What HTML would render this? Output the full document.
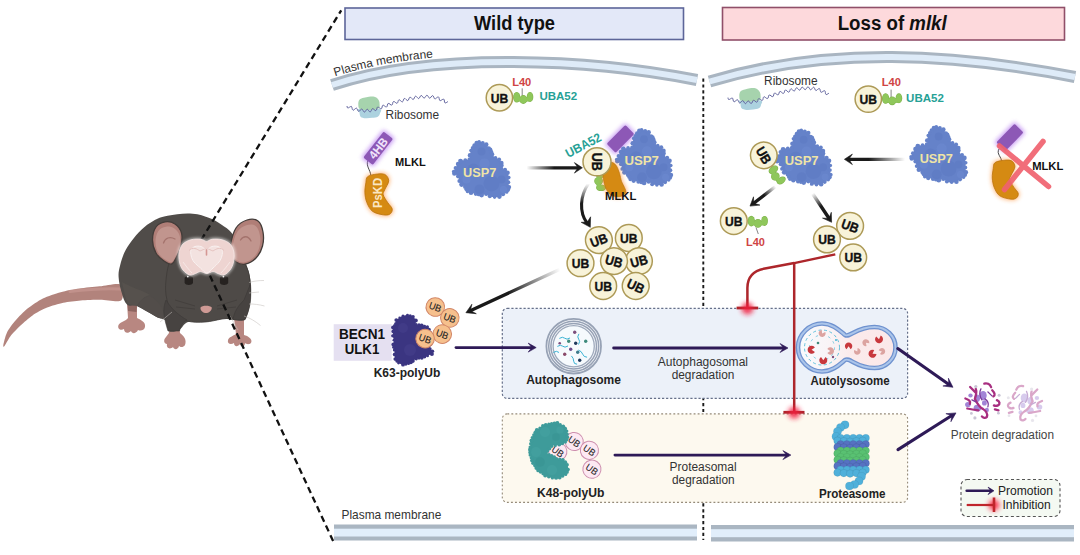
<!DOCTYPE html>
<html><head><meta charset="utf-8"><style>
html,body{margin:0;padding:0;background:#fff;width:1080px;height:555px;overflow:hidden}
svg{display:block}
text{font-family:"Liberation Sans",sans-serif}
.b{font-weight:bold}
</style></head><body>
<svg width="1080" height="555" viewBox="0 0 1080 555">
<defs>
<filter id="glowR" x="-150%" y="-150%" width="400%" height="400%"><feGaussianBlur stdDeviation="2.6"/></filter>
<filter id="glowO" x="-50%" y="-50%" width="200%" height="200%"><feGaussianBlur stdDeviation="2"/></filter>
<filter id="glowB" x="-50%" y="-50%" width="200%" height="200%"><feGaussianBlur stdDeviation="1.6"/></filter>
<filter id="soft" x="-20%" y="-20%" width="140%" height="140%"><feGaussianBlur stdDeviation="0.5"/></filter>
<linearGradient id="g1" gradientUnits="userSpaceOnUse" x1="526.5" y1="167.8" x2="582" y2="167.8"><stop offset="0.0" stop-color="#1a1a1a" stop-opacity="0"/><stop offset="0.5" stop-color="#1a1a1a"/><stop offset="1" stop-color="#1a1a1a"/></linearGradient><linearGradient id="g2" gradientUnits="userSpaceOnUse" x1="588.5" y1="183.5" x2="587" y2="227"><stop offset="0.0" stop-color="#1a1a1a" stop-opacity="0"/><stop offset="0.45" stop-color="#1a1a1a"/><stop offset="1" stop-color="#1a1a1a"/></linearGradient><linearGradient id="g3" gradientUnits="userSpaceOnUse" x1="560" y1="269.3" x2="466" y2="312.7"><stop offset="0.0" stop-color="#1a1a1a" stop-opacity="0"/><stop offset="0.55" stop-color="#1a1a1a"/><stop offset="1" stop-color="#1a1a1a"/></linearGradient><linearGradient id="g4" gradientUnits="userSpaceOnUse" x1="905" y1="159.3" x2="844.4" y2="159.3"><stop offset="0.0" stop-color="#1a1a1a" stop-opacity="0"/><stop offset="0.6" stop-color="#1a1a1a"/><stop offset="1" stop-color="#1a1a1a"/></linearGradient><linearGradient id="g5" gradientUnits="userSpaceOnUse" x1="775.5" y1="186.5" x2="750" y2="206.1"><stop offset="0.0" stop-color="#1a1a1a" stop-opacity="0"/><stop offset="0.45" stop-color="#1a1a1a"/><stop offset="1" stop-color="#1a1a1a"/></linearGradient><linearGradient id="g6" gradientUnits="userSpaceOnUse" x1="812.5" y1="193.5" x2="831.6" y2="222.3"><stop offset="0.0" stop-color="#1a1a1a" stop-opacity="0"/><stop offset="0.45" stop-color="#1a1a1a"/><stop offset="1" stop-color="#1a1a1a"/></linearGradient></defs>
<rect x="345" y="8" width="338.5" height="31.5" fill="#e3e8f8" stroke="#5d6599" stroke-width="1.6"/>
<text x="514.5" y="29.7" font-size="20" font-weight="bold" text-anchor="middle" fill="#111" textLength="81" lengthAdjust="spacingAndGlyphs">Wild type</text>
<rect x="722.5" y="7.5" width="342" height="32.5" fill="#fdd9dc" stroke="#904f69" stroke-width="1.6"/>
<text x="892.2" y="29.7" font-size="20" font-weight="bold" text-anchor="middle" fill="#111" textLength="109" lengthAdjust="spacingAndGlyphs">Loss of <tspan font-style="italic">mlkl</tspan></text>
<path d="M332,85 C434.3,51.1 591.5,59.1 697,80" fill="none" stroke="#a9b5c1" stroke-width="12"/>
<path d="M332,85 C434.3,51.1 591.5,59.1 697,80" fill="none" stroke="#deebf8" stroke-width="6"/>
<path d="M709.5,81.5 C829,45.8 953.9,53.5 1075,77" fill="none" stroke="#a9b5c1" stroke-width="12"/>
<path d="M709.5,81.5 C829,45.8 953.9,53.5 1075,77" fill="none" stroke="#deebf8" stroke-width="6"/>
<path id="pmt" d="M333,77 C434,43.5 591,51.5 697,72" fill="none"/>
<text font-size="11.9" fill="#333"><textPath href="#pmt" startOffset="2.3">Plasma membrane</textPath></text>
<rect x="334" y="524.5" width="363" height="16" fill="#aab6c2"/><rect x="334" y="528.7" width="363" height="7.8" fill="#e1eefb"/>
<rect x="711" y="525" width="363" height="16.5" fill="#aab6c2"/><rect x="711" y="529.2" width="363" height="8" fill="#e1eefb"/>
<text x="341.5" y="519" font-size="11.9" fill="#333">Plasma membrane</text>
<line x1="703.3" y1="78.5" x2="703.3" y2="540" stroke="#1a1a1a" stroke-width="1.9" stroke-dasharray="3.2,2.7"/>
<rect x="502.3" y="308.4" width="405.3" height="90" rx="5" fill="#ecf1f9" stroke="#66708a" stroke-width="1.2" stroke-dasharray="2.2,1.85"/>
<rect x="502.3" y="413.9" width="405.3" height="88.5" rx="5" fill="#fdf9ef" stroke="#958a78" stroke-width="1.1" stroke-dasharray="1.9,2.15"/>
<g transform="translate(0,0)"><path d="M358.9,108.9 C362.2,108.4 375.9,108.2 379.4,108.9 C382.9,109.6 380.3,112 380,113.3 C379.7,114.6 379.1,116 377.8,116.7 C376.5,117.5 374.2,117.5 372.2,117.8 C370.2,118.1 367.5,118.5 365.6,118.3 C363.7,118.1 361.6,117.7 360.6,116.7 C359.6,115.7 359.7,113.5 359.4,112.2 C359.1,110.9 355.6,109.5 358.9,108.9Z" fill="#acd2df"/><path d="M358.3,104.5 C358.2,103 358.5,100.9 359.4,99.8 C360.3,98.7 362.3,98.3 363.9,97.8 C365.5,97.3 367.3,96.9 368.9,96.7 C370.5,96.5 372,96.3 373.3,96.5 C374.6,96.7 375.8,97.1 376.7,97.8 C377.6,98.5 378.4,99.5 378.9,100.6 C379.4,101.7 379.7,103.1 379.6,104.4 C379.5,105.7 380.3,107.6 378.5,108.5 C376.7,109.4 372.1,109.9 369,110 C365.9,110.1 361.8,109.9 360,109 C358.2,108.1 358.4,106 358.3,104.5Z" fill="#a6d3ad"/><path d="M347,106 L347.2,107.2 L347.6,107.9 L348.5,107.8 L349.5,107.2 L350.6,106.6 L351.4,106.4 L351.8,107.1 L352.1,108.3 L352.4,109.5 L353,110.2 L353.8,110 L354.7,109.2 L355.7,108.4 L356.4,108.1 L357,108.6 L357.5,109.8 L358,110.9 L358.6,111.4 L359.4,111.1 L360.2,110.2 L361.1,109.3 L361.8,109 L362.4,109.4 L363,110.5 L363.7,111.6 L364.3,112.1 L365.1,111.7 L365.8,110.7 L366.5,109.7 L367.2,109.2 L367.9,109.6 L368.6,110.6 L369.4,111.6 L370.2,111.9 L370.9,111.4 L371.4,110.3 L371.9,109.2 L372.4,108.6 L373.2,108.8 L374.1,109.6 L375.1,110.4 L375.9,110.6 L376.5,110 L376.8,108.9 L377.1,107.7 L377.7,107 L378.4,107.2 L379.4,107.9 L380.4,108.6 L381.3,108.8 L381.8,108.2 L382.1,107 L382.4,105.8 L382.9,105.2 L383.7,105.3 L384.7,106.1 L385.7,106.8 L386.5,107 L387.1,106.4 L387.4,105.2 L387.7,104 L388.2,103.4 L389,103.5 L390,104.2 L391,105 L391.8,105.1 L392.4,104.5 L392.7,103.3 L393,102.1 L393.5,101.5 L394.3,101.6 L395.3,102.4 L396.3,103.1 L397.1,103.3 L397.6,102.8 L398,101.6 L398.4,100.4 L398.9,99.8 L399.7,100 L400.7,100.8 L401.6,101.6 L402.4,101.9 L403,101.3 L403.4,100.2 L403.8,99 L404.4,98.4 L405.2,98.6 L406.1,99.5 L407,100.3 L407.8,100.6 L408.4,100.1 L408.9,98.9 L409.3,97.8 L409.9,97.2 L410.7,97.4 L411.6,98.3 L412.5,99.2 L413.2,99.5 L413.8,99 L414.3,97.9 L414.9,96.7 L415.5,96.2 L416.2,96.4 L417.1,97.3 L417.9,98.2 L418.7,98.6 L419.3,98.1 L419.9,97.1 L420.5,96 L421.1,95.4 L421.9,95.8 L422.7,96.7 L423.4,97.7 L424.1,98.2 L424.8,97.7 L425.5,96.7 L426.2,95.7 L426.9,95.2 L427.6,95.6 L428.3,96.6 L428.9,97.7 L429.6,98.2 L430.3,97.9 L431,97 L431.9,96 L432.6,95.6 L433.3,96.1 L433.8,97.2 L434.3,98.4 L434.9,99 L435.6,98.7 L436.5,97.9 L437.5,97.2 L438.4,96.9 L438.9,97.5 L439.2,98.7 L439.5,99.9 L439.9,100.6 L440.7,100.6 L441.8,99.9 L442.8,99.3 L443.7,99.1 L444.2,99.8 L444.4,101 L444.5,102.2 L445,102.9 L445.8,102.9 L446.8,102.3 L447.9,101.6" fill="none" stroke="#64669f" stroke-width="1"/></g>
<text x="385.6" y="119.1" font-size="11.9" fill="#333">Ribosome</text>
<g transform="translate(381,-8.4)"><path d="M358.9,108.9 C362.2,108.4 375.9,108.2 379.4,108.9 C382.9,109.6 380.3,112 380,113.3 C379.7,114.6 379.1,116 377.8,116.7 C376.5,117.5 374.2,117.5 372.2,117.8 C370.2,118.1 367.5,118.5 365.6,118.3 C363.7,118.1 361.6,117.7 360.6,116.7 C359.6,115.7 359.7,113.5 359.4,112.2 C359.1,110.9 355.6,109.5 358.9,108.9Z" fill="#acd2df"/><path d="M358.3,104.5 C358.2,103 358.5,100.9 359.4,99.8 C360.3,98.7 362.3,98.3 363.9,97.8 C365.5,97.3 367.3,96.9 368.9,96.7 C370.5,96.5 372,96.3 373.3,96.5 C374.6,96.7 375.8,97.1 376.7,97.8 C377.6,98.5 378.4,99.5 378.9,100.6 C379.4,101.7 379.7,103.1 379.6,104.4 C379.5,105.7 380.3,107.6 378.5,108.5 C376.7,109.4 372.1,109.9 369,110 C365.9,110.1 361.8,109.9 360,109 C358.2,108.1 358.4,106 358.3,104.5Z" fill="#a6d3ad"/><path d="M347,106 L347.2,107.2 L347.6,107.9 L348.5,107.8 L349.5,107.2 L350.6,106.6 L351.4,106.4 L351.8,107.1 L352.1,108.3 L352.4,109.5 L353,110.2 L353.8,110 L354.7,109.2 L355.7,108.4 L356.4,108.1 L357,108.6 L357.5,109.8 L358,110.9 L358.6,111.4 L359.4,111.1 L360.2,110.2 L361.1,109.3 L361.8,109 L362.4,109.4 L363,110.5 L363.7,111.6 L364.3,112.1 L365.1,111.7 L365.8,110.7 L366.5,109.7 L367.2,109.2 L367.9,109.6 L368.6,110.6 L369.4,111.6 L370.2,111.9 L370.9,111.4 L371.4,110.3 L371.9,109.2 L372.4,108.6 L373.2,108.8 L374.1,109.6 L375.1,110.4 L375.9,110.6 L376.5,110 L376.8,108.9 L377.1,107.7 L377.7,107 L378.4,107.2 L379.4,107.9 L380.4,108.6 L381.3,108.8 L381.8,108.2 L382.1,107 L382.4,105.8 L382.9,105.2 L383.7,105.3 L384.7,106.1 L385.7,106.8 L386.5,107 L387.1,106.4 L387.4,105.2 L387.7,104 L388.2,103.4 L389,103.5 L390,104.2 L391,105 L391.8,105.1 L392.4,104.5 L392.7,103.3 L393,102.1 L393.5,101.5 L394.3,101.6 L395.3,102.4 L396.3,103.1 L397.1,103.3 L397.6,102.8 L398,101.6 L398.4,100.4 L398.9,99.8 L399.7,100 L400.7,100.8 L401.6,101.6 L402.4,101.9 L403,101.3 L403.4,100.2 L403.8,99 L404.4,98.4 L405.2,98.6 L406.1,99.5 L407,100.3 L407.8,100.6 L408.4,100.1 L408.9,98.9 L409.3,97.8 L409.9,97.2 L410.7,97.4 L411.6,98.3 L412.5,99.2 L413.2,99.5 L413.8,99 L414.3,97.9 L414.9,96.7 L415.5,96.2 L416.2,96.4 L417.1,97.3 L417.9,98.2 L418.7,98.6 L419.3,98.1 L419.9,97.1 L420.5,96 L421.1,95.4 L421.9,95.8 L422.7,96.7 L423.4,97.7 L424.1,98.2 L424.8,97.7 L425.5,96.7 L426.2,95.7 L426.9,95.2 L427.6,95.6 L428.3,96.6 L428.9,97.7 L429.6,98.2 L430.3,97.9 L431,97 L431.9,96 L432.6,95.6 L433.3,96.1 L433.8,97.2 L434.3,98.4 L434.9,99 L435.6,98.7 L436.5,97.9 L437.5,97.2 L438.4,96.9 L438.9,97.5 L439.2,98.7 L439.5,99.9 L439.9,100.6 L440.7,100.6 L441.8,99.9 L442.8,99.3 L443.7,99.1 L444.2,99.8 L444.4,101 L444.5,102.2 L445,102.9 L445.8,102.9 L446.8,102.3 L447.9,101.6" fill="none" stroke="#64669f" stroke-width="1"/></g>
<text x="764.1" y="85.3" font-size="11.9" fill="#333">Ribosome</text>
<line x1="522.2" y1="88.3" x2="522.2" y2="95.8" stroke="#777" stroke-width="0.9"/><g transform="translate(523,97.5) rotate(0)"><g fill="#7fb24c"><ellipse cx="-6.3" cy="-0.3" rx="3.6" ry="5.3"/><ellipse cx="7" cy="-0.5" rx="3.3" ry="5"/><ellipse cx="0.3" cy="2" rx="4" ry="4.4"/><rect x="-5" y="-0.5" width="11" height="4.5"/></g><g fill="#8fc75b"><ellipse cx="-6.3" cy="-0.3" rx="3" ry="4.7"/><ellipse cx="7" cy="-0.5" rx="2.7" ry="4.4"/><ellipse cx="0.3" cy="2" rx="3.4" ry="3.8"/><rect x="-4.5" y="0" width="10" height="3.5"/></g></g><g transform="translate(499.4,97.8) rotate(0)"><circle r="13.2" fill="#f8f3d9" stroke="#ad9a57" stroke-width="1.5"/><text x="0" y="4.9" font-size="13.5" font-weight="bold" text-anchor="middle" fill="#111" textLength="17.5" lengthAdjust="spacingAndGlyphs" stroke="#111" stroke-width="0.35">UB</text></g>
<text x="512.2" y="85.6" font-size="10.8" font-weight="bold" fill="#cf4444" textLength="19.1" lengthAdjust="spacingAndGlyphs">L40</text>
<text x="539.4" y="100.2" font-size="11.4" font-weight="bold" fill="#26a196" textLength="37.8" lengthAdjust="spacingAndGlyphs">UBA52</text>
<line x1="891.1" y1="89.6" x2="891.1" y2="97.1" stroke="#777" stroke-width="0.9"/><g transform="translate(891.9,98.8) rotate(0)"><g fill="#7fb24c"><ellipse cx="-6.3" cy="-0.3" rx="3.6" ry="5.3"/><ellipse cx="7" cy="-0.5" rx="3.3" ry="5"/><ellipse cx="0.3" cy="2" rx="4" ry="4.4"/><rect x="-5" y="-0.5" width="11" height="4.5"/></g><g fill="#8fc75b"><ellipse cx="-6.3" cy="-0.3" rx="3" ry="4.7"/><ellipse cx="7" cy="-0.5" rx="2.7" ry="4.4"/><ellipse cx="0.3" cy="2" rx="3.4" ry="3.8"/><rect x="-4.5" y="0" width="10" height="3.5"/></g></g><g transform="translate(868.3,99.1) rotate(0)"><circle r="13.2" fill="#f8f3d9" stroke="#ad9a57" stroke-width="1.5"/><text x="0" y="4.9" font-size="13.5" font-weight="bold" text-anchor="middle" fill="#111" textLength="17.5" lengthAdjust="spacingAndGlyphs" stroke="#111" stroke-width="0.35">UB</text></g>
<text x="881.7" y="85.6" font-size="10.8" font-weight="bold" fill="#cf4444" textLength="19.2" lengthAdjust="spacingAndGlyphs">L40</text>
<text x="906.1" y="102.2" font-size="11.4" font-weight="bold" fill="#26a196" textLength="37.8" lengthAdjust="spacingAndGlyphs">UBA52</text>
<path d="M368,160 C365.5,166 370.5,170 370.8,175.5" fill="none" stroke="#333" stroke-width="0.9"/>
<g transform="translate(378.2,148.2) rotate(-52)"><rect x="-18" y="-7.5" width="36" height="15" rx="2" fill="#b77ef0" opacity="0.75" filter="url(#glowO)"/><rect x="-16.5" y="-6" width="33" height="12" rx="1.5" fill="#8d58b6"/><text x="0" y="4.3" font-size="12" font-weight="bold" fill="#f1e4fb" text-anchor="middle" textLength="23" lengthAdjust="spacingAndGlyphs">4HB</text></g>
<g transform="translate(378.8,194.3) rotate(0) scale(1.0)"><path d="M-11.4,-17.4 C-9.9,-18.8 -6.9,-19.5 -4,-19.9 C-1.1,-20.3 3.6,-21 5.9,-19.9 C8.2,-18.8 9.9,-16.1 9.9,-13.5 C9.9,-10.9 6.8,-6.8 5.9,-4.5 C5,-2.2 3.9,-1.7 4.4,0.4 C4.9,2.5 7.4,6 8.9,8.3 C10.4,10.6 12.8,12.5 13.3,14.3 C13.8,16.1 13,18.1 11.8,19.2 C10.6,20.3 8.9,21 5.9,20.7 C2.9,20.4 -3,19.3 -6,17.2 C-9,15.1 -10.6,11.4 -11.9,8.3 C-13.2,5.2 -13.7,1.7 -13.9,-1.6 C-14.1,-4.9 -13.3,-8.9 -12.9,-11.5 C-12.5,-14.1 -12.9,-16 -11.4,-17.4Z" fill="#ff8a2a" stroke="#ff8a2a" stroke-width="2.5" opacity="0.6" filter="url(#glowO)"/><path d="M-11.4,-17.4 C-9.9,-18.8 -6.9,-19.5 -4,-19.9 C-1.1,-20.3 3.6,-21 5.9,-19.9 C8.2,-18.8 9.9,-16.1 9.9,-13.5 C9.9,-10.9 6.8,-6.8 5.9,-4.5 C5,-2.2 3.9,-1.7 4.4,0.4 C4.9,2.5 7.4,6 8.9,8.3 C10.4,10.6 12.8,12.5 13.3,14.3 C13.8,16.1 13,18.1 11.8,19.2 C10.6,20.3 8.9,21 5.9,20.7 C2.9,20.4 -3,19.3 -6,17.2 C-9,15.1 -10.6,11.4 -11.9,8.3 C-13.2,5.2 -13.7,1.7 -13.9,-1.6 C-14.1,-4.9 -13.3,-8.9 -12.9,-11.5 C-12.5,-14.1 -12.9,-16 -11.4,-17.4Z" fill="#d58a13" stroke="#b9730d" stroke-width="0.8"/><text transform="rotate(-90)" x="1.3" y="3.2" font-size="12.5" font-weight="bold" fill="#fbe7c3" text-anchor="middle" textLength="30" lengthAdjust="spacingAndGlyphs">PsKD</text></g>
<text x="395" y="166.4" font-size="11.6" font-weight="bold" fill="#111" textLength="30.7" lengthAdjust="spacingAndGlyphs">MLKL</text>
<g transform="translate(451.5,139.4) scale(1.0,1.0)"><g fill="#6582c9"><path d="M27.6,2.4 C29.2,2.6 33.2,3.8 34.8,5 C36.4,6.1 36.4,8.5 37.1,9.3 C37.8,10.1 38.3,9 38.9,9.9 C39.4,10.8 39.6,13.5 40.5,14.9 C41.3,16.3 42.8,17.5 44,18.3 C45.1,19.2 46.6,19.1 47.6,20 C48.5,20.8 49.5,22 49.9,23.5 C50.2,24.9 49.1,27.6 49.7,28.8 C50.3,29.9 52.5,29.7 53.5,30.5 C54.6,31.3 55.4,32.1 56,33.4 C56.6,34.7 57.2,36.6 57.3,38.2 C57.5,39.7 56.8,41.3 56.8,42.9 C56.8,44.5 57.8,46.1 57.5,47.7 C57.2,49.4 56.1,51.3 55.1,52.5 C54.1,53.7 52.7,54 51.5,54.8 C50.3,55.6 49.3,56.7 47.9,57.2 C46.5,57.6 44.7,57.8 43.1,57.7 C41.5,57.7 39.7,57.5 38.3,56.9 C36.9,56.3 36.1,54.6 34.7,54.3 C33.3,54.1 31.8,55.6 30.1,55.6 C28.4,55.6 26,54.7 24.3,54.4 C22.5,54 20.9,53.7 19.5,53.3 C18.1,52.9 16.9,53.1 16,52.1 C15,51.2 14.7,48.6 13.7,47.4 C12.8,46.2 11.1,46 10.1,45.1 C9.1,44.1 8.4,43 7.8,41.6 C7.2,40.3 7.4,38.2 6.6,36.9 C5.8,35.6 3.6,34.8 2.9,34 C2.2,33.3 2,33.1 2.2,32.2 C2.4,31.4 3.4,30 4.1,28.7 C4.8,27.4 5.7,25.8 6.5,24.6 C7.3,23.4 7.8,22.3 9,21.7 C10.2,21 12.3,20.9 13.8,20.7 C15.3,20.5 17.3,21 18,20.2 C18.8,19.4 18.3,17.5 18.5,16 C18.7,14.5 18.7,12.8 19.5,11.1 C20.2,9.5 22,7.4 23,6.1 C23.9,4.9 24.5,4.3 25.3,3.7 C26.1,3.1 26.1,2.2 27.6,2.4Z"/><circle cx="27.6" cy="2.4" r="1.8"/><circle cx="31.2" cy="3.7" r="2"/><circle cx="34.8" cy="5" r="2.2"/><circle cx="37.1" cy="9.3" r="2.4"/><circle cx="38.9" cy="9.9" r="1.9"/><circle cx="39.7" cy="12.4" r="2.1"/><circle cx="40.5" cy="14.9" r="2.3"/><circle cx="44" cy="18.3" r="1.8"/><circle cx="47.6" cy="20" r="2"/><circle cx="49.9" cy="23.5" r="2.2"/><circle cx="49.8" cy="26.1" r="2.4"/><circle cx="49.7" cy="28.8" r="1.9"/><circle cx="53.5" cy="30.5" r="2.1"/><circle cx="56" cy="33.4" r="2.3"/><circle cx="57.3" cy="38.2" r="1.8"/><circle cx="56.8" cy="42.9" r="2"/><circle cx="57.5" cy="47.7" r="2.2"/><circle cx="56.3" cy="50.1" r="2.4"/><circle cx="55.1" cy="52.5" r="1.9"/><circle cx="51.5" cy="54.8" r="2.1"/><circle cx="47.9" cy="57.2" r="2.3"/><circle cx="43.1" cy="57.7" r="1.8"/><circle cx="38.3" cy="56.9" r="2"/><circle cx="34.7" cy="54.3" r="2.2"/><circle cx="30.1" cy="55.6" r="2.4"/><circle cx="27.2" cy="55" r="1.9"/><circle cx="24.3" cy="54.4" r="2.1"/><circle cx="19.5" cy="53.3" r="2.3"/><circle cx="16" cy="52.1" r="1.8"/><circle cx="14.9" cy="49.8" r="2"/><circle cx="13.7" cy="47.4" r="2.2"/><circle cx="10.1" cy="45.1" r="2.4"/><circle cx="7.8" cy="41.6" r="1.9"/><circle cx="6.6" cy="36.9" r="2.1"/><circle cx="2.9" cy="34" r="2.3"/><circle cx="2.2" cy="32.2" r="1.8"/><circle cx="4.1" cy="28.7" r="2"/><circle cx="6.5" cy="24.6" r="2.2"/><circle cx="9" cy="21.7" r="2.4"/><circle cx="13.8" cy="20.7" r="1.9"/><circle cx="18" cy="20.2" r="2.1"/><circle cx="18.5" cy="16" r="2.3"/><circle cx="19.5" cy="11.1" r="1.8"/><circle cx="21.2" cy="8.6" r="2"/><circle cx="23" cy="6.1" r="2.2"/><circle cx="25.3" cy="3.7" r="2.4"/></g><g fill="#5673bd" opacity="0.3"><circle cx="22" cy="30" r="6"/><circle cx="40" cy="44" r="8"/><circle cx="28" cy="50" r="5"/><circle cx="50" cy="40" r="4"/><circle cx="30" cy="12" r="4"/></g><g fill="#7592d8" opacity="0.3"><circle cx="33" cy="24" r="5"/><circle cx="15" cy="40" r="4"/><circle cx="52" cy="50" r="3.5"/></g></g>
<text x="479.6" y="176.8" font-size="13" font-weight="bold" text-anchor="middle" fill="#efe4a6" textLength="33.2" lengthAdjust="spacingAndGlyphs">USP7</text>
<line x1="526.5" y1="167.8" x2="577.6" y2="167.8" stroke="url(#g1)" stroke-width="3.3" stroke-linecap="round"/><path d="M582.4,167.8 L574.4,173.1 L578,167.8 L574.4,162.6 Z" fill="#1a1a1a" stroke="#1a1a1a" stroke-width="0.6" stroke-linejoin="round"/>
<g transform="translate(620.4,138.9) rotate(-45)"><rect x="-14.8" y="-7.8" width="29.5" height="15.7" rx="2" fill="#b77ef0" opacity="0.75" filter="url(#glowO)"/><rect x="-13.2" y="-6.3" width="26.5" height="12.7" rx="1.5" fill="#8d58b6"/></g>
<g transform="translate(614.5,127.3) scale(0.983,1.0)"><g fill="#6582c9"><path d="M27.6,2.4 C29.2,2.6 33.2,3.8 34.8,5 C36.4,6.1 36.4,8.5 37.1,9.3 C37.8,10.1 38.3,9 38.9,9.9 C39.4,10.8 39.6,13.5 40.5,14.9 C41.3,16.3 42.8,17.5 44,18.3 C45.1,19.2 46.6,19.1 47.6,20 C48.5,20.8 49.5,22 49.9,23.5 C50.2,24.9 49.1,27.6 49.7,28.8 C50.3,29.9 52.5,29.7 53.5,30.5 C54.6,31.3 55.4,32.1 56,33.4 C56.6,34.7 57.2,36.6 57.3,38.2 C57.5,39.7 56.8,41.3 56.8,42.9 C56.8,44.5 57.8,46.1 57.5,47.7 C57.2,49.4 56.1,51.3 55.1,52.5 C54.1,53.7 52.7,54 51.5,54.8 C50.3,55.6 49.3,56.7 47.9,57.2 C46.5,57.6 44.7,57.8 43.1,57.7 C41.5,57.7 39.7,57.5 38.3,56.9 C36.9,56.3 36.1,54.6 34.7,54.3 C33.3,54.1 31.8,55.6 30.1,55.6 C28.4,55.6 26,54.7 24.3,54.4 C22.5,54 20.9,53.7 19.5,53.3 C18.1,52.9 16.9,53.1 16,52.1 C15,51.2 14.7,48.6 13.7,47.4 C12.8,46.2 11.1,46 10.1,45.1 C9.1,44.1 8.4,43 7.8,41.6 C7.2,40.3 7.4,38.2 6.6,36.9 C5.8,35.6 3.6,34.8 2.9,34 C2.2,33.3 2,33.1 2.2,32.2 C2.4,31.4 3.4,30 4.1,28.7 C4.8,27.4 5.7,25.8 6.5,24.6 C7.3,23.4 7.8,22.3 9,21.7 C10.2,21 12.3,20.9 13.8,20.7 C15.3,20.5 17.3,21 18,20.2 C18.8,19.4 18.3,17.5 18.5,16 C18.7,14.5 18.7,12.8 19.5,11.1 C20.2,9.5 22,7.4 23,6.1 C23.9,4.9 24.5,4.3 25.3,3.7 C26.1,3.1 26.1,2.2 27.6,2.4Z"/><circle cx="27.6" cy="2.4" r="1.8"/><circle cx="31.2" cy="3.7" r="2"/><circle cx="34.8" cy="5" r="2.2"/><circle cx="37.1" cy="9.3" r="2.4"/><circle cx="38.9" cy="9.9" r="1.9"/><circle cx="39.7" cy="12.4" r="2.1"/><circle cx="40.5" cy="14.9" r="2.3"/><circle cx="44" cy="18.3" r="1.8"/><circle cx="47.6" cy="20" r="2"/><circle cx="49.9" cy="23.5" r="2.2"/><circle cx="49.8" cy="26.1" r="2.4"/><circle cx="49.7" cy="28.8" r="1.9"/><circle cx="53.5" cy="30.5" r="2.1"/><circle cx="56" cy="33.4" r="2.3"/><circle cx="57.3" cy="38.2" r="1.8"/><circle cx="56.8" cy="42.9" r="2"/><circle cx="57.5" cy="47.7" r="2.2"/><circle cx="56.3" cy="50.1" r="2.4"/><circle cx="55.1" cy="52.5" r="1.9"/><circle cx="51.5" cy="54.8" r="2.1"/><circle cx="47.9" cy="57.2" r="2.3"/><circle cx="43.1" cy="57.7" r="1.8"/><circle cx="38.3" cy="56.9" r="2"/><circle cx="34.7" cy="54.3" r="2.2"/><circle cx="30.1" cy="55.6" r="2.4"/><circle cx="27.2" cy="55" r="1.9"/><circle cx="24.3" cy="54.4" r="2.1"/><circle cx="19.5" cy="53.3" r="2.3"/><circle cx="16" cy="52.1" r="1.8"/><circle cx="14.9" cy="49.8" r="2"/><circle cx="13.7" cy="47.4" r="2.2"/><circle cx="10.1" cy="45.1" r="2.4"/><circle cx="7.8" cy="41.6" r="1.9"/><circle cx="6.6" cy="36.9" r="2.1"/><circle cx="2.9" cy="34" r="2.3"/><circle cx="2.2" cy="32.2" r="1.8"/><circle cx="4.1" cy="28.7" r="2"/><circle cx="6.5" cy="24.6" r="2.2"/><circle cx="9" cy="21.7" r="2.4"/><circle cx="13.8" cy="20.7" r="1.9"/><circle cx="18" cy="20.2" r="2.1"/><circle cx="18.5" cy="16" r="2.3"/><circle cx="19.5" cy="11.1" r="1.8"/><circle cx="21.2" cy="8.6" r="2"/><circle cx="23" cy="6.1" r="2.2"/><circle cx="25.3" cy="3.7" r="2.4"/></g><g fill="#5673bd" opacity="0.3"><circle cx="22" cy="30" r="6"/><circle cx="40" cy="44" r="8"/><circle cx="28" cy="50" r="5"/><circle cx="50" cy="40" r="4"/><circle cx="30" cy="12" r="4"/></g><g fill="#7592d8" opacity="0.3"><circle cx="33" cy="24" r="5"/><circle cx="15" cy="40" r="4"/><circle cx="52" cy="50" r="3.5"/></g></g>
<text x="641.7" y="164.6" font-size="13" font-weight="bold" text-anchor="middle" fill="#efe4a6" textLength="34.5" lengthAdjust="spacingAndGlyphs">USP7</text>
<g transform="translate(600.6,180.8) rotate(90)"><g fill="#7fb24c"><ellipse cx="-6.3" cy="-0.3" rx="3.6" ry="5.3"/><ellipse cx="7" cy="-0.5" rx="3.3" ry="5"/><ellipse cx="0.3" cy="2" rx="4" ry="4.4"/><rect x="-5" y="-0.5" width="11" height="4.5"/></g><g fill="#8fc75b"><ellipse cx="-6.3" cy="-0.3" rx="3" ry="4.7"/><ellipse cx="7" cy="-0.5" rx="2.7" ry="4.4"/><ellipse cx="0.3" cy="2" rx="3.4" ry="3.8"/><rect x="-4.5" y="0" width="10" height="3.5"/></g></g>
<path d="M607.5,163.2 C608.8,162.6 611,162 612.5,162.5 C614,163 615.3,164.2 616.5,166 C617.7,167.8 618.8,171 619.6,173.6 C620.4,176.2 620.7,179 621.5,181.3 C622.3,183.6 623.8,185.6 624.5,187.4 C625.2,189.2 626.2,190.6 625.8,192 C625.4,193.4 623.6,195.2 622,196 C620.4,196.8 618,196.8 616,196.5 C614,196.2 611.7,195.9 610,194.5 C608.3,193.1 606.9,190.4 605.8,188 C604.7,185.6 603.9,182.7 603.5,180 C603.1,177.3 603,174.4 603.2,172.1 C603.4,169.8 604.1,167.5 604.8,166 C605.5,164.5 606.2,163.8 607.5,163.2Z" fill="#ff8a2a" stroke="#ff8a2a" stroke-width="2.5" opacity="0.6" filter="url(#glowO)"/>
<path d="M607.5,163.2 C608.8,162.6 611,162 612.5,162.5 C614,163 615.3,164.2 616.5,166 C617.7,167.8 618.8,171 619.6,173.6 C620.4,176.2 620.7,179 621.5,181.3 C622.3,183.6 623.8,185.6 624.5,187.4 C625.2,189.2 626.2,190.6 625.8,192 C625.4,193.4 623.6,195.2 622,196 C620.4,196.8 618,196.8 616,196.5 C614,196.2 611.7,195.9 610,194.5 C608.3,193.1 606.9,190.4 605.8,188 C604.7,185.6 603.9,182.7 603.5,180 C603.1,177.3 603,174.4 603.2,172.1 C603.4,169.8 604.1,167.5 604.8,166 C605.5,164.5 606.2,163.8 607.5,163.2Z" fill="#d58a13" stroke="#b9730d" stroke-width="0.6"/>
<g transform="translate(597,161.8) rotate(90)"><circle r="14" fill="#f8f3d9" stroke="#ad9a57" stroke-width="1.5"/><text x="0" y="5" font-size="14" font-weight="bold" text-anchor="middle" fill="#111" textLength="18" lengthAdjust="spacingAndGlyphs" stroke="#111" stroke-width="0.35">UB</text></g>
<text transform="translate(585.2,149) rotate(-27.5)" font-size="12.6" font-weight="bold" fill="#26a196" text-anchor="middle" textLength="38.5" lengthAdjust="spacingAndGlyphs">UBA52</text>
<text x="605" y="199.9" font-size="11.6" font-weight="bold" fill="#111" textLength="31.4" lengthAdjust="spacingAndGlyphs">MLKL</text>
<path d="M588.5,183.5 C580,196 579,212 587,223" fill="none" stroke="url(#g2)" stroke-width="3.1"/>
<path d="M590.3,227.3 L581.2,222.3 L587.3,222 L590.6,216.8 Z" fill="#1a1a1a" stroke="#1a1a1a" stroke-width="0.6" stroke-linejoin="round"/>
<g transform="translate(598.9,240.1) rotate(-20)"><circle r="13.4" fill="#f8f3d9" stroke="#ad9a57" stroke-width="1.5"/><text x="0" y="4.9" font-size="13.5" font-weight="bold" text-anchor="middle" fill="#111" textLength="17.5" lengthAdjust="spacingAndGlyphs" stroke="#111" stroke-width="0.35">UB</text></g>
<g transform="translate(628.8,238) rotate(0)"><circle r="13.4" fill="#f8f3d9" stroke="#ad9a57" stroke-width="1.5"/><text x="0" y="4.9" font-size="13.5" font-weight="bold" text-anchor="middle" fill="#111" textLength="17.5" lengthAdjust="spacingAndGlyphs" stroke="#111" stroke-width="0.35">UB</text></g>
<g transform="translate(580.5,263.2) rotate(0)"><circle r="13.4" fill="#f8f3d9" stroke="#ad9a57" stroke-width="1.5"/><text x="0" y="4.9" font-size="13.5" font-weight="bold" text-anchor="middle" fill="#111" textLength="17.5" lengthAdjust="spacingAndGlyphs" stroke="#111" stroke-width="0.35">UB</text></g>
<g transform="translate(638.9,261.1) rotate(-15)"><circle r="13.4" fill="#f8f3d9" stroke="#ad9a57" stroke-width="1.5"/><text x="0" y="4.9" font-size="13.5" font-weight="bold" text-anchor="middle" fill="#111" textLength="17.5" lengthAdjust="spacingAndGlyphs" stroke="#111" stroke-width="0.35">UB</text></g>
<g transform="translate(614,261.1) rotate(15)"><circle r="13.4" fill="#f8f3d9" stroke="#ad9a57" stroke-width="1.5"/><text x="0" y="4.9" font-size="13.5" font-weight="bold" text-anchor="middle" fill="#111" textLength="17.5" lengthAdjust="spacingAndGlyphs" stroke="#111" stroke-width="0.35">UB</text></g>
<g transform="translate(603.2,286) rotate(0)"><circle r="13.4" fill="#f8f3d9" stroke="#ad9a57" stroke-width="1.5"/><text x="0" y="4.9" font-size="13.5" font-weight="bold" text-anchor="middle" fill="#111" textLength="17.5" lengthAdjust="spacingAndGlyphs" stroke="#111" stroke-width="0.35">UB</text></g>
<g transform="translate(635.7,286) rotate(25)"><circle r="13.4" fill="#f8f3d9" stroke="#ad9a57" stroke-width="1.5"/><text x="0" y="4.9" font-size="13.5" font-weight="bold" text-anchor="middle" fill="#111" textLength="17.5" lengthAdjust="spacingAndGlyphs" stroke="#111" stroke-width="0.35">UB</text></g>
<line x1="560" y1="269.3" x2="470.8" y2="310.4" stroke="url(#g3)" stroke-width="3.3" stroke-linecap="round"/><path d="M465.9,312.7 L471.9,304.2 L470.4,310.6 L476.3,313.7 Z" fill="#1a1a1a" stroke="#1a1a1a" stroke-width="0.6" stroke-linejoin="round"/>
<rect x="333.7" y="324.2" width="58" height="36.6" fill="#e5e0f1"/>
<text x="362" y="339.3" font-size="14.6" font-weight="bold" text-anchor="middle" fill="#111" textLength="46" lengthAdjust="spacingAndGlyphs">BECN1</text>
<text x="362" y="354.1" font-size="14.6" font-weight="bold" text-anchor="middle" fill="#111" textLength="34.6" lengthAdjust="spacingAndGlyphs">ULK1</text>
<g fill="#3b3581"><path d="M407.5,315.1 C409.1,315.2 411.6,315.9 413,316.8 C414.4,317.7 415.3,319.1 415.8,320.4 C416.3,321.6 415.2,323.6 416.2,324.4 C417.2,325.3 419.9,324.9 421.7,325.3 C423.6,325.8 426.2,326.2 427.4,326.9 C428.6,327.6 428.4,328.3 429,329.6 C429.5,331 430.4,332.8 430.7,335.3 C431,337.8 430.8,342.4 430.7,344.7 C430.6,347 429.8,347.8 430.1,348.9 C430.4,350 432.1,350.4 432.4,351.3 C432.7,352.1 432.8,353.3 431.9,354.1 C431.1,354.8 429.1,355.1 427.5,355.7 C425.8,356.3 423.7,357.3 421.8,357.8 C420,358.3 417.7,358.3 416.3,358.8 C414.8,359.4 414.3,360.3 413,361.1 C411.7,361.9 410.2,362.9 408.5,363.5 C406.9,364.1 404.7,364.7 403,364.7 C401.3,364.6 399.8,364 398.5,363.1 C397.2,362.1 395.9,360.5 395.2,359.1 C394.6,357.7 394.9,356 394.8,354.5 C394.6,353 394.6,351.7 394.3,350 C394.1,348.4 393.3,346.1 393.3,344.5 C393.2,342.8 394,341.6 393.9,340.2 C393.8,338.7 392.8,337.3 392.7,335.8 C392.5,334.3 393.1,332.8 393.2,331.4 C393.2,330 392.6,328.7 393.1,327.4 C393.5,326.1 395.3,324.8 395.9,323.6 C396.4,322.3 395.6,321.1 396.3,320.1 C396.9,319.2 398.6,318.5 399.7,317.9 C400.8,317.2 401.7,316.7 403,316.2 C404.3,315.8 405.8,315 407.5,315.1Z"/><circle cx="407.5" cy="315.1" r="1.4"/><circle cx="410.2" cy="315.9" r="1.6"/><circle cx="413" cy="316.8" r="1.8"/><circle cx="415.8" cy="320.4" r="2"/><circle cx="416.2" cy="324.4" r="1.5"/><circle cx="419" cy="324.9" r="1.7"/><circle cx="421.7" cy="325.3" r="1.9"/><circle cx="424.6" cy="326.1" r="1.4"/><circle cx="427.4" cy="326.9" r="1.6"/><circle cx="429" cy="329.6" r="1.8"/><circle cx="429.9" cy="332.5" r="2"/><circle cx="430.7" cy="335.3" r="1.5"/><circle cx="430.7" cy="338.4" r="1.7"/><circle cx="430.7" cy="341.6" r="1.9"/><circle cx="430.7" cy="344.7" r="1.4"/><circle cx="430.1" cy="348.9" r="1.6"/><circle cx="432.4" cy="351.3" r="1.8"/><circle cx="431.9" cy="354.1" r="2"/><circle cx="427.5" cy="355.7" r="1.5"/><circle cx="424.6" cy="356.7" r="1.7"/><circle cx="421.8" cy="357.8" r="1.9"/><circle cx="419" cy="358.3" r="1.4"/><circle cx="416.3" cy="358.8" r="1.6"/><circle cx="413" cy="361.1" r="1.8"/><circle cx="410.8" cy="362.3" r="2"/><circle cx="408.5" cy="363.5" r="1.5"/><circle cx="405.8" cy="364.1" r="1.7"/><circle cx="403" cy="364.7" r="1.9"/><circle cx="398.5" cy="363.1" r="1.4"/><circle cx="396.9" cy="361.1" r="1.6"/><circle cx="395.2" cy="359.1" r="1.8"/><circle cx="394.8" cy="354.5" r="2"/><circle cx="394.3" cy="350" r="1.5"/><circle cx="393.8" cy="347.3" r="1.7"/><circle cx="393.3" cy="344.5" r="1.9"/><circle cx="393.9" cy="340.2" r="1.4"/><circle cx="392.7" cy="335.8" r="1.6"/><circle cx="393.2" cy="331.4" r="1.8"/><circle cx="393.1" cy="327.4" r="2"/><circle cx="394.5" cy="325.5" r="1.5"/><circle cx="395.9" cy="323.6" r="1.7"/><circle cx="396.3" cy="320.1" r="1.9"/><circle cx="399.7" cy="317.9" r="1.4"/><circle cx="403" cy="316.2" r="1.6"/></g>
<g fill="#453f8c" opacity="0.6"><circle cx="403" cy="328" r="5"/><circle cx="410" cy="350" r="6"/></g>
<g transform="translate(435.3,307) rotate(20)"><circle r="9.3" fill="#f6c08d" stroke="#d28768" stroke-width="1"/><text x="0" y="3.4" font-size="9.5" text-anchor="middle" fill="#222" textLength="12.5" lengthAdjust="spacingAndGlyphs" stroke="#222" stroke-width="0.1">UB</text></g>
<g transform="translate(449.8,317.9) rotate(20)"><circle r="9.3" fill="#f6c08d" stroke="#d28768" stroke-width="1"/><text x="0" y="3.4" font-size="9.5" text-anchor="middle" fill="#222" textLength="12.5" lengthAdjust="spacingAndGlyphs" stroke="#222" stroke-width="0.1">UB</text></g>
<g transform="translate(442.2,334.1) rotate(20)"><circle r="9.3" fill="#f6c08d" stroke="#d28768" stroke-width="1"/><text x="0" y="3.4" font-size="9.5" text-anchor="middle" fill="#222" textLength="12.5" lengthAdjust="spacingAndGlyphs" stroke="#222" stroke-width="0.1">UB</text></g>
<g transform="translate(425.1,338.6) rotate(20)"><circle r="9.3" fill="#f6c08d" stroke="#d28768" stroke-width="1"/><text x="0" y="3.4" font-size="9.5" text-anchor="middle" fill="#222" textLength="12.5" lengthAdjust="spacingAndGlyphs" stroke="#222" stroke-width="0.1">UB</text></g>
<text x="407" y="377.3" font-size="12" font-weight="bold" text-anchor="middle" fill="#222" textLength="66.7" lengthAdjust="spacingAndGlyphs">K63-polyUb</text>
<line x1="456" y1="347.6" x2="531.4" y2="347.6" stroke="#2e1a57" stroke-width="2.8" stroke-linecap="round"/><path d="M536.2,347.6 L528.2,352.1 L531.8,347.6 L528.2,343.1 Z" fill="#2e1a57" stroke="#2e1a57" stroke-width="0.6" stroke-linejoin="round"/>
<g transform="translate(573.7,346.2)"><circle r="27.3" fill="#f4f6fa" stroke="#97a2b5" stroke-width="1.8"/><circle r="25" fill="none" stroke="#97a2b5" stroke-width="1.5"/><circle r="22.8" fill="none" stroke="#97a2b5" stroke-width="1.5"/><circle r="20.6" fill="#f6fafd" stroke="#9ea9bb" stroke-width="1.3"/><g fill="none" stroke="#39b2d3" stroke-width="1" stroke-linecap="round"><path d="M-14,-8 q3,-2 5,0 t5,0"/><path d="M-16,0 q3,-2 5,0 t5,0"/><path d="M5,-12 q-2,3 0,5 t0,5"/><path d="M5,4 q3,1 4,4 t4,3"/><path d="M-2,10 q2,2 2,5 t3,3"/><path d="M-20,6 q3,-2 5,0"/></g><circle cx="1" cy="-14" r="1.7" fill="#7c4f7d"/><circle cx="-5" cy="-5" r="1.7" fill="#3f8b7c"/><circle cx="12" cy="-5" r="1.7" fill="#3f8b7c"/><circle cx="2" cy="-3" r="1.7" fill="#1e3a5c"/><circle cx="-3" cy="3" r="1.7" fill="#6a4a8a"/><circle cx="4" cy="6" r="1.7" fill="#3f7b8c"/><circle cx="-9" cy="8" r="1.7" fill="#8a4a6a"/><circle cx="6" cy="14" r="1.7" fill="#1e3a5c"/><circle cx="-14" cy="-3" r="1.3" fill="#7c4f7d"/></g>
<text x="573.6" y="384.2" font-size="12" font-weight="bold" text-anchor="middle" fill="#222" textLength="94.8" lengthAdjust="spacingAndGlyphs">Autophagosome</text>
<line x1="613.6" y1="348" x2="783.2" y2="348" stroke="#2e1a57" stroke-width="2.8" stroke-linecap="round"/><path d="M788,348 L780,352.5 L783.6,348 L780,343.5 Z" fill="#2e1a57" stroke="#2e1a57" stroke-width="0.6" stroke-linejoin="round"/>
<text x="702.9" y="365.6" font-size="12" text-anchor="middle" fill="#333" textLength="90.2" lengthAdjust="spacingAndGlyphs">Autophagosomal</text>
<text x="703" y="379.4" font-size="12" text-anchor="middle" fill="#333" textLength="62.7" lengthAdjust="spacingAndGlyphs">degradation</text>
<defs><linearGradient id="alg" x1="798" x2="896" y1="0" y2="0" gradientUnits="userSpaceOnUse"><stop offset="0" stop-color="#f8fbfe"/><stop offset="0.35" stop-color="#f9f3f5"/><stop offset="0.55" stop-color="#fbeaeb"/><stop offset="1" stop-color="#fbe8e9"/></linearGradient></defs>
<path d="M822,323.5 C810,323.5 798,334 798,347.5 C798,361 810,371.5 822,371.5 C833,371.5 840,364 845,360 C850,357 856,368 874.5,368 C886,368 895.5,359 895.5,347.5 C895.5,336 886,327 874.5,327 C856,327 850,338 845,335 C840,331 833,323.5 822,323.5 Z" fill="url(#alg)" stroke="#6f92cf" stroke-width="4.6"/>
<path d="M822,323.5 C810,323.5 798,334 798,347.5 C798,361 810,371.5 822,371.5 C833,371.5 840,364 845,360 C850,357 856,368 874.5,368 C886,368 895.5,359 895.5,347.5 C895.5,336 886,327 874.5,327 C856,327 850,338 845,335 C840,331 833,323.5 822,323.5 Z" fill="none" stroke="#abc5ea" stroke-width="2"/>
<circle cx="822" cy="347.5" r="17.5" fill="none" stroke="#3fb3d4" stroke-width="0.9" stroke-dasharray="3,2.6" opacity="0.9"/>
<circle cx="822" cy="347.5" r="12.5" fill="none" stroke="#3fb3d4" stroke-width="0.8" stroke-dasharray="2.5,4" opacity="0.8"/>
<path d="M822.1,333.4 L825.3,331.9 A3.5,3.5 0 1 1 821.8,329.9 Z" fill="#dca3a0"/>
<path d="M811.6,349.8 L814.9,352.1 A4,4 0 1 1 814.9,347.5 Z" fill="#c8383d"/>
<path d="M830.3,351 L827.3,348.9 A3.7,3.7 0 1 1 827.3,353.1 Z" fill="#dca3a0"/>
<path d="M823.3,360.3 L825.6,357 A4,4 0 1 1 821,357 Z" fill="#c8383d"/>
<path d="M848.6,346.2 L846.5,349.2 A3.7,3.7 0 1 1 850.7,349.2 Z" fill="#c8383d"/>
<path d="M857.3,351.4 L857.6,348.1 A3.3,3.3 0 1 1 854.3,350 Z" fill="#dca3a0"/>
<path d="M865.9,342.7 L866.5,346.1 A3.5,3.5 0 1 1 869.3,343.3 Z" fill="#dca3a0"/>
<path d="M879,339.2 L880.7,335.6 A4,4 0 1 1 876.2,336.4 Z" fill="#c8383d"/>
<path d="M872.5,353.7 L876.5,354 A4,4 0 1 1 874.2,350.1 Z" fill="#c8383d"/>
<path d="M881.9,351.4 L878.7,350.5 A3.3,3.3 0 1 1 880,354.1 Z" fill="#dca3a0"/>
<circle cx="818" cy="343" r="1.3" fill="#3f8b7c"/><circle cx="833" cy="357" r="1.2" fill="#7c4f7d"/><circle cx="836" cy="340" r="1" fill="#3fb3d4"/>
<text x="850" y="385" font-size="12" font-weight="bold" text-anchor="middle" fill="#222" textLength="79.2" lengthAdjust="spacingAndGlyphs">Autolysosome</text>
<g transform="translate(908.9,124.4) scale(0.992,1.003)"><g fill="#6582c9"><path d="M27.6,2.4 C29.2,2.6 33.2,3.8 34.8,5 C36.4,6.1 36.4,8.5 37.1,9.3 C37.8,10.1 38.3,9 38.9,9.9 C39.4,10.8 39.6,13.5 40.5,14.9 C41.3,16.3 42.8,17.5 44,18.3 C45.1,19.2 46.6,19.1 47.6,20 C48.5,20.8 49.5,22 49.9,23.5 C50.2,24.9 49.1,27.6 49.7,28.8 C50.3,29.9 52.5,29.7 53.5,30.5 C54.6,31.3 55.4,32.1 56,33.4 C56.6,34.7 57.2,36.6 57.3,38.2 C57.5,39.7 56.8,41.3 56.8,42.9 C56.8,44.5 57.8,46.1 57.5,47.7 C57.2,49.4 56.1,51.3 55.1,52.5 C54.1,53.7 52.7,54 51.5,54.8 C50.3,55.6 49.3,56.7 47.9,57.2 C46.5,57.6 44.7,57.8 43.1,57.7 C41.5,57.7 39.7,57.5 38.3,56.9 C36.9,56.3 36.1,54.6 34.7,54.3 C33.3,54.1 31.8,55.6 30.1,55.6 C28.4,55.6 26,54.7 24.3,54.4 C22.5,54 20.9,53.7 19.5,53.3 C18.1,52.9 16.9,53.1 16,52.1 C15,51.2 14.7,48.6 13.7,47.4 C12.8,46.2 11.1,46 10.1,45.1 C9.1,44.1 8.4,43 7.8,41.6 C7.2,40.3 7.4,38.2 6.6,36.9 C5.8,35.6 3.6,34.8 2.9,34 C2.2,33.3 2,33.1 2.2,32.2 C2.4,31.4 3.4,30 4.1,28.7 C4.8,27.4 5.7,25.8 6.5,24.6 C7.3,23.4 7.8,22.3 9,21.7 C10.2,21 12.3,20.9 13.8,20.7 C15.3,20.5 17.3,21 18,20.2 C18.8,19.4 18.3,17.5 18.5,16 C18.7,14.5 18.7,12.8 19.5,11.1 C20.2,9.5 22,7.4 23,6.1 C23.9,4.9 24.5,4.3 25.3,3.7 C26.1,3.1 26.1,2.2 27.6,2.4Z"/><circle cx="27.6" cy="2.4" r="1.8"/><circle cx="31.2" cy="3.7" r="2"/><circle cx="34.8" cy="5" r="2.2"/><circle cx="37.1" cy="9.3" r="2.4"/><circle cx="38.9" cy="9.9" r="1.9"/><circle cx="39.7" cy="12.4" r="2.1"/><circle cx="40.5" cy="14.9" r="2.3"/><circle cx="44" cy="18.3" r="1.8"/><circle cx="47.6" cy="20" r="2"/><circle cx="49.9" cy="23.5" r="2.2"/><circle cx="49.8" cy="26.1" r="2.4"/><circle cx="49.7" cy="28.8" r="1.9"/><circle cx="53.5" cy="30.5" r="2.1"/><circle cx="56" cy="33.4" r="2.3"/><circle cx="57.3" cy="38.2" r="1.8"/><circle cx="56.8" cy="42.9" r="2"/><circle cx="57.5" cy="47.7" r="2.2"/><circle cx="56.3" cy="50.1" r="2.4"/><circle cx="55.1" cy="52.5" r="1.9"/><circle cx="51.5" cy="54.8" r="2.1"/><circle cx="47.9" cy="57.2" r="2.3"/><circle cx="43.1" cy="57.7" r="1.8"/><circle cx="38.3" cy="56.9" r="2"/><circle cx="34.7" cy="54.3" r="2.2"/><circle cx="30.1" cy="55.6" r="2.4"/><circle cx="27.2" cy="55" r="1.9"/><circle cx="24.3" cy="54.4" r="2.1"/><circle cx="19.5" cy="53.3" r="2.3"/><circle cx="16" cy="52.1" r="1.8"/><circle cx="14.9" cy="49.8" r="2"/><circle cx="13.7" cy="47.4" r="2.2"/><circle cx="10.1" cy="45.1" r="2.4"/><circle cx="7.8" cy="41.6" r="1.9"/><circle cx="6.6" cy="36.9" r="2.1"/><circle cx="2.9" cy="34" r="2.3"/><circle cx="2.2" cy="32.2" r="1.8"/><circle cx="4.1" cy="28.7" r="2"/><circle cx="6.5" cy="24.6" r="2.2"/><circle cx="9" cy="21.7" r="2.4"/><circle cx="13.8" cy="20.7" r="1.9"/><circle cx="18" cy="20.2" r="2.1"/><circle cx="18.5" cy="16" r="2.3"/><circle cx="19.5" cy="11.1" r="1.8"/><circle cx="21.2" cy="8.6" r="2"/><circle cx="23" cy="6.1" r="2.2"/><circle cx="25.3" cy="3.7" r="2.4"/></g><g fill="#5673bd" opacity="0.3"><circle cx="22" cy="30" r="6"/><circle cx="40" cy="44" r="8"/><circle cx="28" cy="50" r="5"/><circle cx="50" cy="40" r="4"/><circle cx="30" cy="12" r="4"/></g><g fill="#7592d8" opacity="0.3"><circle cx="33" cy="24" r="5"/><circle cx="15" cy="40" r="4"/><circle cx="52" cy="50" r="3.5"/></g></g>
<text x="936.3" y="162.9" font-size="13" font-weight="bold" text-anchor="middle" fill="#efe4a6" textLength="33.3" lengthAdjust="spacingAndGlyphs">USP7</text>
<line x1="905" y1="159.3" x2="849.2" y2="159.3" stroke="url(#g4)" stroke-width="3.3" stroke-linecap="round"/><path d="M844.4,159.3 L852.4,154.1 L848.8,159.3 L852.4,164.6 Z" fill="#1a1a1a" stroke="#1a1a1a" stroke-width="0.6" stroke-linejoin="round"/>
<path d="M999,149 C996,154 1002,157 1001.5,162" fill="none" stroke="#333" stroke-width="0.9"/>
<g transform="translate(1009.9,137.4) rotate(-45.6)"><rect x="-14.5" y="-7.8" width="29" height="15.5" rx="2" fill="#b77ef0" opacity="0.75" filter="url(#glowO)"/><rect x="-13" y="-6.2" width="26" height="12.5" rx="1.5" fill="#8d58b6"/></g>
<g transform="translate(1005.5,179.5) rotate(0) scale(0.95)"><path d="M-11.4,-17.4 C-9.9,-18.8 -6.9,-19.5 -4,-19.9 C-1.1,-20.3 3.6,-21 5.9,-19.9 C8.2,-18.8 9.9,-16.1 9.9,-13.5 C9.9,-10.9 6.8,-6.8 5.9,-4.5 C5,-2.2 3.9,-1.7 4.4,0.4 C4.9,2.5 7.4,6 8.9,8.3 C10.4,10.6 12.8,12.5 13.3,14.3 C13.8,16.1 13,18.1 11.8,19.2 C10.6,20.3 8.9,21 5.9,20.7 C2.9,20.4 -3,19.3 -6,17.2 C-9,15.1 -10.6,11.4 -11.9,8.3 C-13.2,5.2 -13.7,1.7 -13.9,-1.6 C-14.1,-4.9 -13.3,-8.9 -12.9,-11.5 C-12.5,-14.1 -12.9,-16 -11.4,-17.4Z" fill="#ff8a2a" stroke="#ff8a2a" stroke-width="2.5" opacity="0.6" filter="url(#glowO)"/><path d="M-11.4,-17.4 C-9.9,-18.8 -6.9,-19.5 -4,-19.9 C-1.1,-20.3 3.6,-21 5.9,-19.9 C8.2,-18.8 9.9,-16.1 9.9,-13.5 C9.9,-10.9 6.8,-6.8 5.9,-4.5 C5,-2.2 3.9,-1.7 4.4,0.4 C4.9,2.5 7.4,6 8.9,8.3 C10.4,10.6 12.8,12.5 13.3,14.3 C13.8,16.1 13,18.1 11.8,19.2 C10.6,20.3 8.9,21 5.9,20.7 C2.9,20.4 -3,19.3 -6,17.2 C-9,15.1 -10.6,11.4 -11.9,8.3 C-13.2,5.2 -13.7,1.7 -13.9,-1.6 C-14.1,-4.9 -13.3,-8.9 -12.9,-11.5 C-12.5,-14.1 -12.9,-16 -11.4,-17.4Z" fill="#d58a13" stroke="#b9730d" stroke-width="0.8"/></g>
<g stroke="#f0626f" stroke-width="5.5" stroke-linecap="round" opacity="0.92"><line x1="999.5" y1="146" x2="1048.5" y2="186.5"/><line x1="1043" y1="141.5" x2="1004.5" y2="189.5"/></g>
<text x="1032.2" y="169.6" font-size="11.6" font-weight="bold" fill="#111" textLength="31.1" lengthAdjust="spacingAndGlyphs">MLKL</text>
<g transform="translate(776.8,175) rotate(55)"><g fill="#7fb24c"><ellipse cx="-6.3" cy="-0.3" rx="3.6" ry="5.3"/><ellipse cx="7" cy="-0.5" rx="3.3" ry="5"/><ellipse cx="0.3" cy="2" rx="4" ry="4.4"/><rect x="-5" y="-0.5" width="11" height="4.5"/></g><g fill="#8fc75b"><ellipse cx="-6.3" cy="-0.3" rx="3" ry="4.7"/><ellipse cx="7" cy="-0.5" rx="2.7" ry="4.4"/><ellipse cx="0.3" cy="2" rx="3.4" ry="3.8"/><rect x="-4.5" y="0" width="10" height="3.5"/></g></g>
<g transform="translate(774.3,127.9) scale(0.978,0.984)"><g fill="#6582c9"><path d="M27.6,2.4 C29.2,2.6 33.2,3.8 34.8,5 C36.4,6.1 36.4,8.5 37.1,9.3 C37.8,10.1 38.3,9 38.9,9.9 C39.4,10.8 39.6,13.5 40.5,14.9 C41.3,16.3 42.8,17.5 44,18.3 C45.1,19.2 46.6,19.1 47.6,20 C48.5,20.8 49.5,22 49.9,23.5 C50.2,24.9 49.1,27.6 49.7,28.8 C50.3,29.9 52.5,29.7 53.5,30.5 C54.6,31.3 55.4,32.1 56,33.4 C56.6,34.7 57.2,36.6 57.3,38.2 C57.5,39.7 56.8,41.3 56.8,42.9 C56.8,44.5 57.8,46.1 57.5,47.7 C57.2,49.4 56.1,51.3 55.1,52.5 C54.1,53.7 52.7,54 51.5,54.8 C50.3,55.6 49.3,56.7 47.9,57.2 C46.5,57.6 44.7,57.8 43.1,57.7 C41.5,57.7 39.7,57.5 38.3,56.9 C36.9,56.3 36.1,54.6 34.7,54.3 C33.3,54.1 31.8,55.6 30.1,55.6 C28.4,55.6 26,54.7 24.3,54.4 C22.5,54 20.9,53.7 19.5,53.3 C18.1,52.9 16.9,53.1 16,52.1 C15,51.2 14.7,48.6 13.7,47.4 C12.8,46.2 11.1,46 10.1,45.1 C9.1,44.1 8.4,43 7.8,41.6 C7.2,40.3 7.4,38.2 6.6,36.9 C5.8,35.6 3.6,34.8 2.9,34 C2.2,33.3 2,33.1 2.2,32.2 C2.4,31.4 3.4,30 4.1,28.7 C4.8,27.4 5.7,25.8 6.5,24.6 C7.3,23.4 7.8,22.3 9,21.7 C10.2,21 12.3,20.9 13.8,20.7 C15.3,20.5 17.3,21 18,20.2 C18.8,19.4 18.3,17.5 18.5,16 C18.7,14.5 18.7,12.8 19.5,11.1 C20.2,9.5 22,7.4 23,6.1 C23.9,4.9 24.5,4.3 25.3,3.7 C26.1,3.1 26.1,2.2 27.6,2.4Z"/><circle cx="27.6" cy="2.4" r="1.8"/><circle cx="31.2" cy="3.7" r="2"/><circle cx="34.8" cy="5" r="2.2"/><circle cx="37.1" cy="9.3" r="2.4"/><circle cx="38.9" cy="9.9" r="1.9"/><circle cx="39.7" cy="12.4" r="2.1"/><circle cx="40.5" cy="14.9" r="2.3"/><circle cx="44" cy="18.3" r="1.8"/><circle cx="47.6" cy="20" r="2"/><circle cx="49.9" cy="23.5" r="2.2"/><circle cx="49.8" cy="26.1" r="2.4"/><circle cx="49.7" cy="28.8" r="1.9"/><circle cx="53.5" cy="30.5" r="2.1"/><circle cx="56" cy="33.4" r="2.3"/><circle cx="57.3" cy="38.2" r="1.8"/><circle cx="56.8" cy="42.9" r="2"/><circle cx="57.5" cy="47.7" r="2.2"/><circle cx="56.3" cy="50.1" r="2.4"/><circle cx="55.1" cy="52.5" r="1.9"/><circle cx="51.5" cy="54.8" r="2.1"/><circle cx="47.9" cy="57.2" r="2.3"/><circle cx="43.1" cy="57.7" r="1.8"/><circle cx="38.3" cy="56.9" r="2"/><circle cx="34.7" cy="54.3" r="2.2"/><circle cx="30.1" cy="55.6" r="2.4"/><circle cx="27.2" cy="55" r="1.9"/><circle cx="24.3" cy="54.4" r="2.1"/><circle cx="19.5" cy="53.3" r="2.3"/><circle cx="16" cy="52.1" r="1.8"/><circle cx="14.9" cy="49.8" r="2"/><circle cx="13.7" cy="47.4" r="2.2"/><circle cx="10.1" cy="45.1" r="2.4"/><circle cx="7.8" cy="41.6" r="1.9"/><circle cx="6.6" cy="36.9" r="2.1"/><circle cx="2.9" cy="34" r="2.3"/><circle cx="2.2" cy="32.2" r="1.8"/><circle cx="4.1" cy="28.7" r="2"/><circle cx="6.5" cy="24.6" r="2.2"/><circle cx="9" cy="21.7" r="2.4"/><circle cx="13.8" cy="20.7" r="1.9"/><circle cx="18" cy="20.2" r="2.1"/><circle cx="18.5" cy="16" r="2.3"/><circle cx="19.5" cy="11.1" r="1.8"/><circle cx="21.2" cy="8.6" r="2"/><circle cx="23" cy="6.1" r="2.2"/><circle cx="25.3" cy="3.7" r="2.4"/></g><g fill="#5673bd" opacity="0.3"><circle cx="22" cy="30" r="6"/><circle cx="40" cy="44" r="8"/><circle cx="28" cy="50" r="5"/><circle cx="50" cy="40" r="4"/><circle cx="30" cy="12" r="4"/></g><g fill="#7592d8" opacity="0.3"><circle cx="33" cy="24" r="5"/><circle cx="15" cy="40" r="4"/><circle cx="52" cy="50" r="3.5"/></g></g>
<text x="801.6" y="165.4" font-size="13" font-weight="bold" text-anchor="middle" fill="#efe4a6" textLength="33.9" lengthAdjust="spacingAndGlyphs">USP7</text>
<g transform="translate(763.8,155.3) rotate(60)"><circle r="13.3" fill="#f8f3d9" stroke="#ad9a57" stroke-width="1.5"/><text x="0" y="4.9" font-size="13.5" font-weight="bold" text-anchor="middle" fill="#111" textLength="17.5" lengthAdjust="spacingAndGlyphs" stroke="#111" stroke-width="0.35">UB</text></g>
<line x1="775.5" y1="186.5" x2="754" y2="203" stroke="url(#g5)" stroke-width="3.4" stroke-linecap="round"/><path d="M750,206.1 L753.5,196.8 L753.7,203.3 L759.9,205.1 Z" fill="#1a1a1a" stroke="#1a1a1a" stroke-width="0.6" stroke-linejoin="round"/>
<line x1="812.5" y1="193.5" x2="828.8" y2="218" stroke="url(#g6)" stroke-width="3.4" stroke-linecap="round"/><path d="M831.6,222.3 L822.5,218.1 L829,218.4 L831.3,212.3 Z" fill="#1a1a1a" stroke="#1a1a1a" stroke-width="0.6" stroke-linejoin="round"/>
<line x1="756" y1="227.5" x2="758.3" y2="234" stroke="#777" stroke-width="0.9"/>
<g transform="translate(757.6,221.4) rotate(0)"><g fill="#7fb24c"><ellipse cx="-6.3" cy="-0.3" rx="3.6" ry="5.3"/><ellipse cx="7" cy="-0.5" rx="3.3" ry="5"/><ellipse cx="0.3" cy="2" rx="4" ry="4.4"/><rect x="-5" y="-0.5" width="11" height="4.5"/></g><g fill="#8fc75b"><ellipse cx="-6.3" cy="-0.3" rx="3" ry="4.7"/><ellipse cx="7" cy="-0.5" rx="2.7" ry="4.4"/><ellipse cx="0.3" cy="2" rx="3.4" ry="3.8"/><rect x="-4.5" y="0" width="10" height="3.5"/></g></g>
<g transform="translate(733.8,221.1) rotate(0)"><circle r="13.4" fill="#f8f3d9" stroke="#ad9a57" stroke-width="1.5"/><text x="0" y="4.9" font-size="13.5" font-weight="bold" text-anchor="middle" fill="#111" textLength="17.5" lengthAdjust="spacingAndGlyphs" stroke="#111" stroke-width="0.35">UB</text></g>
<text x="746" y="245.7" font-size="10.8" font-weight="bold" fill="#cf4444" textLength="18.9" lengthAdjust="spacingAndGlyphs">L40</text>
<g transform="translate(850.1,225.9) rotate(20)"><circle r="13.4" fill="#f8f3d9" stroke="#ad9a57" stroke-width="1.5"/><text x="0" y="4.9" font-size="13.5" font-weight="bold" text-anchor="middle" fill="#111" textLength="17.5" lengthAdjust="spacingAndGlyphs" stroke="#111" stroke-width="0.35">UB</text></g>
<g transform="translate(827,239.4) rotate(0)"><circle r="13.4" fill="#f8f3d9" stroke="#ad9a57" stroke-width="1.5"/><text x="0" y="4.9" font-size="13.5" font-weight="bold" text-anchor="middle" fill="#111" textLength="17.5" lengthAdjust="spacingAndGlyphs" stroke="#111" stroke-width="0.35">UB</text></g>
<g fill="none" stroke="#ad262b" stroke-width="2.5"><path d="M835.3,254.4 L794.2,263.1 L765,268.6 C754,270.5 747.4,276 747.4,288 L747.4,308"/><line x1="794.2" y1="263.1" x2="794.2" y2="412.3"/><line x1="736.6" y1="308" x2="758.2" y2="308" stroke-width="2.8"/><line x1="783.4" y1="412.3" x2="804.5" y2="412.3" stroke-width="2.8"/></g>
<circle cx="747.4" cy="308.5" r="6" fill="#f21d3d" opacity="0.85" filter="url(#glowR)"/>
<circle cx="794.2" cy="412.8" r="6" fill="#f21d3d" opacity="0.85" filter="url(#glowR)"/>
<g transform="translate(853.2,257.4) rotate(0)"><circle r="13.4" fill="#f8f3d9" stroke="#ad9a57" stroke-width="1.5"/><text x="0" y="4.9" font-size="13.5" font-weight="bold" text-anchor="middle" fill="#111" textLength="17.5" lengthAdjust="spacingAndGlyphs" stroke="#111" stroke-width="0.35">UB</text></g>
<g transform="translate(557.8,451.6) rotate(35)"><circle r="9.1" fill="#fde9f3" stroke="#cd8fae" stroke-width="1"/><text x="0" y="3.4" font-size="9.5" text-anchor="middle" fill="#2a2a2a" textLength="12.5" lengthAdjust="spacingAndGlyphs" stroke="#2a2a2a" stroke-width="0.1">UB</text></g>
<g transform="translate(574.2,441.5) rotate(35)"><circle r="9.1" fill="#fde9f3" stroke="#cd8fae" stroke-width="1"/><text x="0" y="3.4" font-size="9.5" text-anchor="middle" fill="#2a2a2a" textLength="12.5" lengthAdjust="spacingAndGlyphs" stroke="#2a2a2a" stroke-width="0.1">UB</text></g>
<g transform="translate(589.4,450.3) rotate(35)"><circle r="9.1" fill="#fde9f3" stroke="#cd8fae" stroke-width="1"/><text x="0" y="3.4" font-size="9.5" text-anchor="middle" fill="#2a2a2a" textLength="12.5" lengthAdjust="spacingAndGlyphs" stroke="#2a2a2a" stroke-width="0.1">UB</text></g>
<g transform="translate(591.9,469.2) rotate(35)"><circle r="9.1" fill="#fde9f3" stroke="#cd8fae" stroke-width="1"/><text x="0" y="3.4" font-size="9.5" text-anchor="middle" fill="#2a2a2a" textLength="12.5" lengthAdjust="spacingAndGlyphs" stroke="#2a2a2a" stroke-width="0.1">UB</text></g>
<g fill="#3e9b9a"><path d="M548.8,424 C551.2,423.5 554.8,422.8 557.3,423.2 C559.7,423.6 561.7,424.9 563.3,426.2 C564.9,427.6 566.2,429.2 566.9,431.1 C567.6,432.9 567.6,435.3 567.3,437.2 C567.1,439 566.8,440.9 565.4,442.1 C564.1,443.4 561.4,444 559.2,444.6 C556.9,445.3 553.7,445.2 551.7,446.2 C549.7,447.3 547.6,449.5 547.1,450.9 C546.7,452.3 547.6,453.4 549.1,454.6 C550.7,455.9 554.3,457.6 556.6,458.4 C558.9,459.3 561,458.8 562.8,459.8 C564.6,460.9 566.4,463.1 567.3,464.7 C568.2,466.3 568.3,468 568.1,469.6 C567.8,471.3 567.1,473.2 565.8,474.5 C564.4,475.8 561.9,476.9 559.7,477.5 C557.5,478.1 554.8,478.3 552.4,478 C550,477.6 547.6,476.7 545.2,475.4 C542.8,474.1 540.2,472.4 538.2,470.4 C536.2,468.4 534.4,465.8 533,463.2 C531.7,460.7 530.7,457.8 530.2,455.1 C529.7,452.4 529.8,449.9 530.1,447 C530.5,444 531.1,440.2 532.2,437.5 C533.4,434.7 535.1,432.1 536.9,430.2 C538.7,428.3 540.8,426.9 542.8,425.9 C544.8,424.9 546.4,424.4 548.8,424Z"/><circle cx="548.8" cy="424" r="1.5"/><circle cx="551.6" cy="423.7" r="1.7"/><circle cx="554.4" cy="423.5" r="1.9"/><circle cx="557.3" cy="423.2" r="2.1"/><circle cx="560.3" cy="424.7" r="1.6"/><circle cx="563.3" cy="426.2" r="1.8"/><circle cx="565.1" cy="428.7" r="2"/><circle cx="566.9" cy="431.1" r="1.5"/><circle cx="567.1" cy="434.1" r="1.7"/><circle cx="567.3" cy="437.2" r="1.9"/><circle cx="566.4" cy="439.6" r="2.1"/><circle cx="565.4" cy="442.1" r="1.6"/><circle cx="562.3" cy="443.4" r="1.8"/><circle cx="559.2" cy="444.6" r="2"/><circle cx="555.4" cy="445.4" r="1.5"/><circle cx="551.7" cy="446.2" r="1.7"/><circle cx="549.4" cy="448.6" r="1.9"/><circle cx="547.1" cy="450.9" r="2.1"/><circle cx="549.1" cy="454.6" r="1.6"/><circle cx="551.6" cy="455.9" r="1.8"/><circle cx="554.1" cy="457.2" r="2"/><circle cx="556.6" cy="458.4" r="1.5"/><circle cx="559.7" cy="459.1" r="1.7"/><circle cx="562.8" cy="459.8" r="1.9"/><circle cx="565.1" cy="462.3" r="2.1"/><circle cx="567.3" cy="464.7" r="1.6"/><circle cx="568.1" cy="469.6" r="1.8"/><circle cx="566.9" cy="472.1" r="2"/><circle cx="565.8" cy="474.5" r="1.5"/><circle cx="562.7" cy="476" r="1.7"/><circle cx="559.7" cy="477.5" r="1.9"/><circle cx="556.1" cy="477.7" r="2.1"/><circle cx="552.4" cy="478" r="1.6"/><circle cx="548.8" cy="476.7" r="1.8"/><circle cx="545.2" cy="475.4" r="2"/><circle cx="542.9" cy="473.7" r="1.5"/><circle cx="540.5" cy="472.1" r="1.7"/><circle cx="538.2" cy="470.4" r="1.9"/><circle cx="536.5" cy="468" r="2.1"/><circle cx="534.7" cy="465.6" r="1.6"/><circle cx="533" cy="463.2" r="1.8"/><circle cx="532.1" cy="460.5" r="2"/><circle cx="531.1" cy="457.8" r="1.5"/><circle cx="530.2" cy="455.1" r="1.7"/><circle cx="530.2" cy="452.4" r="1.9"/><circle cx="530.1" cy="449.7" r="2.1"/><circle cx="530.1" cy="447" r="1.6"/><circle cx="530.8" cy="443.8" r="1.8"/><circle cx="531.5" cy="440.6" r="2"/><circle cx="532.2" cy="437.5" r="1.5"/><circle cx="533.8" cy="435" r="1.7"/><circle cx="535.3" cy="432.6" r="1.9"/><circle cx="536.9" cy="430.2" r="2.1"/><circle cx="539.9" cy="428.1" r="1.6"/><circle cx="542.8" cy="425.9" r="1.8"/><circle cx="545.8" cy="424.9" r="2"/></g>
<g fill="#4eaaa8" opacity="0.3"><circle cx="545" cy="432" r="5"/><circle cx="536" cy="452" r="5"/><circle cx="552" cy="470" r="5"/><circle cx="560" cy="430" r="3.5"/></g>
<g fill="#2f8586" opacity="0.2"><circle cx="540" cy="462" r="5"/><circle cx="556" cy="437" r="4"/></g>
<text x="570.7" y="497.1" font-size="12" font-weight="bold" text-anchor="middle" fill="#222" textLength="67.4" lengthAdjust="spacingAndGlyphs">K48-polyUb</text>
<line x1="614.9" y1="455.1" x2="786.1" y2="455.1" stroke="#2e1a57" stroke-width="2.8" stroke-linecap="round"/><path d="M790.9,455.1 L782.9,459.6 L786.5,455.1 L782.9,450.6 Z" fill="#2e1a57" stroke="#2e1a57" stroke-width="0.6" stroke-linejoin="round"/>
<text x="703.1" y="470.8" font-size="12" text-anchor="middle" fill="#333" textLength="67" lengthAdjust="spacingAndGlyphs">Proteasomal</text>
<text x="703.3" y="483.7" font-size="12" text-anchor="middle" fill="#333" textLength="62.6" lengthAdjust="spacingAndGlyphs">degradation</text>
<g><circle cx="845" cy="424.8" r="4.1" fill="#4fb0da" stroke="#000" stroke-opacity="0.1" stroke-width="0.5"/><circle cx="840.5" cy="427.5" r="4.1" fill="#4fb0da" stroke="#000" stroke-opacity="0.1" stroke-width="0.5"/><circle cx="837.5" cy="431.5" r="4.1" fill="#4fb0da" stroke="#000" stroke-opacity="0.1" stroke-width="0.5"/><circle cx="836" cy="436.5" r="4.1" fill="#4fb0da" stroke="#000" stroke-opacity="0.1" stroke-width="0.5"/><circle cx="840.6" cy="437.9" r="3.7" fill="#4fb0da" stroke="#000" stroke-opacity="0.1" stroke-width="0.5"/><circle cx="846.9" cy="437.9" r="3.7" fill="#4fb0da" stroke="#000" stroke-opacity="0.1" stroke-width="0.5"/><circle cx="853.2" cy="437.9" r="3.7" fill="#4fb0da" stroke="#000" stroke-opacity="0.1" stroke-width="0.5"/><circle cx="859.5" cy="437.9" r="3.7" fill="#4fb0da" stroke="#000" stroke-opacity="0.1" stroke-width="0.5"/><circle cx="865.8" cy="437.9" r="3.7" fill="#4fb0da" stroke="#000" stroke-opacity="0.1" stroke-width="0.5"/><circle cx="837.5" cy="440.7" r="3.8" fill="#4fb0da" stroke="#000" stroke-opacity="0.12" stroke-width="0.6"/><circle cx="843.8" cy="441.2" r="3.8" fill="#4fb0da" stroke="#000" stroke-opacity="0.12" stroke-width="0.6"/><circle cx="850.1" cy="441.7" r="3.8" fill="#4fb0da" stroke="#000" stroke-opacity="0.12" stroke-width="0.6"/><circle cx="856.4" cy="441.2" r="3.8" fill="#4fb0da" stroke="#000" stroke-opacity="0.12" stroke-width="0.6"/><circle cx="862.7" cy="440.7" r="3.8" fill="#4fb0da" stroke="#000" stroke-opacity="0.12" stroke-width="0.6"/><circle cx="840.6" cy="444.2" r="3.7" fill="#5672c2" stroke="#000" stroke-opacity="0.1" stroke-width="0.5"/><circle cx="846.9" cy="444.2" r="3.7" fill="#5672c2" stroke="#000" stroke-opacity="0.1" stroke-width="0.5"/><circle cx="853.2" cy="444.2" r="3.7" fill="#5672c2" stroke="#000" stroke-opacity="0.1" stroke-width="0.5"/><circle cx="859.5" cy="444.2" r="3.7" fill="#5672c2" stroke="#000" stroke-opacity="0.1" stroke-width="0.5"/><circle cx="865.8" cy="444.2" r="3.7" fill="#5672c2" stroke="#000" stroke-opacity="0.1" stroke-width="0.5"/><circle cx="837.5" cy="447" r="3.8" fill="#5672c2" stroke="#000" stroke-opacity="0.12" stroke-width="0.6"/><circle cx="843.8" cy="447.5" r="3.8" fill="#5672c2" stroke="#000" stroke-opacity="0.12" stroke-width="0.6"/><circle cx="850.1" cy="448" r="3.8" fill="#5672c2" stroke="#000" stroke-opacity="0.12" stroke-width="0.6"/><circle cx="856.4" cy="447.5" r="3.8" fill="#5672c2" stroke="#000" stroke-opacity="0.12" stroke-width="0.6"/><circle cx="862.7" cy="447" r="3.8" fill="#5672c2" stroke="#000" stroke-opacity="0.12" stroke-width="0.6"/><circle cx="840.6" cy="450.6" r="3.7" fill="#59c172" stroke="#000" stroke-opacity="0.1" stroke-width="0.5"/><circle cx="846.9" cy="450.6" r="3.7" fill="#59c172" stroke="#000" stroke-opacity="0.1" stroke-width="0.5"/><circle cx="853.2" cy="450.6" r="3.7" fill="#59c172" stroke="#000" stroke-opacity="0.1" stroke-width="0.5"/><circle cx="859.5" cy="450.6" r="3.7" fill="#59c172" stroke="#000" stroke-opacity="0.1" stroke-width="0.5"/><circle cx="865.8" cy="450.6" r="3.7" fill="#59c172" stroke="#000" stroke-opacity="0.1" stroke-width="0.5"/><circle cx="837.5" cy="453.4" r="3.8" fill="#59c172" stroke="#000" stroke-opacity="0.12" stroke-width="0.6"/><circle cx="843.8" cy="453.9" r="3.8" fill="#59c172" stroke="#000" stroke-opacity="0.12" stroke-width="0.6"/><circle cx="850.1" cy="454.4" r="3.8" fill="#59c172" stroke="#000" stroke-opacity="0.12" stroke-width="0.6"/><circle cx="856.4" cy="453.9" r="3.8" fill="#59c172" stroke="#000" stroke-opacity="0.12" stroke-width="0.6"/><circle cx="862.7" cy="453.4" r="3.8" fill="#59c172" stroke="#000" stroke-opacity="0.12" stroke-width="0.6"/><circle cx="840.6" cy="457" r="3.7" fill="#59c172" stroke="#000" stroke-opacity="0.1" stroke-width="0.5"/><circle cx="846.9" cy="457" r="3.7" fill="#59c172" stroke="#000" stroke-opacity="0.1" stroke-width="0.5"/><circle cx="853.2" cy="457" r="3.7" fill="#59c172" stroke="#000" stroke-opacity="0.1" stroke-width="0.5"/><circle cx="859.5" cy="457" r="3.7" fill="#59c172" stroke="#000" stroke-opacity="0.1" stroke-width="0.5"/><circle cx="865.8" cy="457" r="3.7" fill="#59c172" stroke="#000" stroke-opacity="0.1" stroke-width="0.5"/><circle cx="837.5" cy="459.8" r="3.8" fill="#59c172" stroke="#000" stroke-opacity="0.12" stroke-width="0.6"/><circle cx="843.8" cy="460.3" r="3.8" fill="#59c172" stroke="#000" stroke-opacity="0.12" stroke-width="0.6"/><circle cx="850.1" cy="460.8" r="3.8" fill="#59c172" stroke="#000" stroke-opacity="0.12" stroke-width="0.6"/><circle cx="856.4" cy="460.3" r="3.8" fill="#59c172" stroke="#000" stroke-opacity="0.12" stroke-width="0.6"/><circle cx="862.7" cy="459.8" r="3.8" fill="#59c172" stroke="#000" stroke-opacity="0.12" stroke-width="0.6"/><circle cx="840.6" cy="463.2" r="3.7" fill="#5672c2" stroke="#000" stroke-opacity="0.1" stroke-width="0.5"/><circle cx="846.9" cy="463.2" r="3.7" fill="#5672c2" stroke="#000" stroke-opacity="0.1" stroke-width="0.5"/><circle cx="853.2" cy="463.2" r="3.7" fill="#5672c2" stroke="#000" stroke-opacity="0.1" stroke-width="0.5"/><circle cx="859.5" cy="463.2" r="3.7" fill="#5672c2" stroke="#000" stroke-opacity="0.1" stroke-width="0.5"/><circle cx="865.8" cy="463.2" r="3.7" fill="#5672c2" stroke="#000" stroke-opacity="0.1" stroke-width="0.5"/><circle cx="837.5" cy="466" r="3.8" fill="#5672c2" stroke="#000" stroke-opacity="0.12" stroke-width="0.6"/><circle cx="843.8" cy="466.5" r="3.8" fill="#5672c2" stroke="#000" stroke-opacity="0.12" stroke-width="0.6"/><circle cx="850.1" cy="467" r="3.8" fill="#5672c2" stroke="#000" stroke-opacity="0.12" stroke-width="0.6"/><circle cx="856.4" cy="466.5" r="3.8" fill="#5672c2" stroke="#000" stroke-opacity="0.12" stroke-width="0.6"/><circle cx="862.7" cy="466" r="3.8" fill="#5672c2" stroke="#000" stroke-opacity="0.12" stroke-width="0.6"/><circle cx="840.6" cy="469.8" r="3.7" fill="#4fb0da" stroke="#000" stroke-opacity="0.1" stroke-width="0.5"/><circle cx="846.9" cy="469.8" r="3.7" fill="#4fb0da" stroke="#000" stroke-opacity="0.1" stroke-width="0.5"/><circle cx="853.2" cy="469.8" r="3.7" fill="#4fb0da" stroke="#000" stroke-opacity="0.1" stroke-width="0.5"/><circle cx="859.5" cy="469.8" r="3.7" fill="#4fb0da" stroke="#000" stroke-opacity="0.1" stroke-width="0.5"/><circle cx="865.8" cy="469.8" r="3.7" fill="#4fb0da" stroke="#000" stroke-opacity="0.1" stroke-width="0.5"/><circle cx="837.5" cy="472.6" r="3.8" fill="#4fb0da" stroke="#000" stroke-opacity="0.12" stroke-width="0.6"/><circle cx="843.8" cy="473.1" r="3.8" fill="#4fb0da" stroke="#000" stroke-opacity="0.12" stroke-width="0.6"/><circle cx="850.1" cy="473.6" r="3.8" fill="#4fb0da" stroke="#000" stroke-opacity="0.12" stroke-width="0.6"/><circle cx="856.4" cy="473.1" r="3.8" fill="#4fb0da" stroke="#000" stroke-opacity="0.12" stroke-width="0.6"/><circle cx="862.7" cy="472.6" r="3.8" fill="#4fb0da" stroke="#000" stroke-opacity="0.12" stroke-width="0.6"/><circle cx="861.5" cy="476.5" r="4.1" fill="#4fb0da" stroke="#000" stroke-opacity="0.1" stroke-width="0.5"/><circle cx="859" cy="481" r="4.1" fill="#4fb0da" stroke="#000" stroke-opacity="0.1" stroke-width="0.5"/><circle cx="854.5" cy="484.5" r="4.1" fill="#4fb0da" stroke="#000" stroke-opacity="0.1" stroke-width="0.5"/><circle cx="849.5" cy="486" r="4.1" fill="#4fb0da" stroke="#000" stroke-opacity="0.1" stroke-width="0.5"/></g>
<text x="852.2" y="497.7" font-size="12" font-weight="bold" text-anchor="middle" fill="#222" textLength="66.5" lengthAdjust="spacingAndGlyphs">Proteasome</text>
<line x1="897.8" y1="348.6" x2="948.6" y2="384.2" stroke="#2e1a57" stroke-width="3.1" stroke-linecap="round"/><path d="M953,387.3 L942.9,386 L948.9,384.5 L948.4,378.2 Z" fill="#2e1a57" stroke="#2e1a57" stroke-width="0.6" stroke-linejoin="round"/>
<line x1="898" y1="449.6" x2="951.4" y2="415.8" stroke="#2e1a57" stroke-width="3.1" stroke-linecap="round"/><path d="M956,412.9 L950.9,421.7 L951.8,415.5 L945.9,413.7 Z" fill="#2e1a57" stroke="#2e1a57" stroke-width="0.6" stroke-linejoin="round"/>
<g transform="translate(983.9,400.9) scale(1,1)" opacity="1.0" stroke-linecap="round"><g fill="#a184d6"><ellipse cx="-0.8" cy="-5.4" rx="3.6" ry="4.6"/><ellipse cx="-6.9" cy="-2.6" rx="3" ry="3.8"/><ellipse cx="-6.5" cy="7.2" rx="3.8" ry="3.4"/><ellipse cx="0.5" cy="2" rx="2.4" ry="2.6"/><ellipse cx="-16" cy="3.6" rx="2.8" ry="2.6"/><ellipse cx="-13.4" cy="-5.5" rx="2.2" ry="2"/><ellipse cx="3" cy="9" rx="2" ry="2.2"/></g><g fill="none" stroke="#a82f80" stroke-width="2.3"><path d="M-13.8,-13.9 L-8.4,-8.5"/><path d="M0.4,-17.3 C3,-18 6,-17 7.2,-13.7"/><path d="M-8.1,-12 C-7,-9 -8,-5 -9,-2 C-7,2 -5,6 -1,8 C2,10 4,13 3,16 C1.5,17.5 -1,17 -2,15.5"/><path d="M-16.6,7.6 C-13,8.5 -10,9 -5.5,9.5"/><path d="M8.3,-10.7 C11,-8 11.5,-5.5 9.5,-4.5"/><path d="M13,-0.8 C16,0.5 16.5,3 14,4.5 C12,5.5 10,4.5 10,4.5"/><path d="M11,8.5 L14.6,9.4"/><path d="M-18.5,-2.4 C-15,-1 -13,0 -14,3"/></g><g fill="none" stroke="#7a3a9a" stroke-width="1.3"><path d="M-3,-12 C-5,-8 -4,-4 -2,-1"/><path d="M1,-2 C4,0 5,3 4,6"/><path d="M-12,-1 L-8,1"/><path d="M4,-9 L8,-5"/></g><g fill="#c9c4d4"><circle cx="-8.1" cy="-14.3" r="1.6"/><circle cx="15.2" cy="-5.6" r="1.5"/><circle cx="-12.5" cy="12.5" r="1.4"/><circle cx="14.5" cy="12.3" r="1.4"/><circle cx="-9" cy="17" r="1.6"/></g></g>
<g transform="translate(1023.5,403.4) scale(-1,1)" opacity="0.42" stroke-linecap="round"><g fill="#a184d6"><ellipse cx="-0.8" cy="-5.4" rx="3.6" ry="4.6"/><ellipse cx="-6.9" cy="-2.6" rx="3" ry="3.8"/><ellipse cx="-6.5" cy="7.2" rx="3.8" ry="3.4"/><ellipse cx="0.5" cy="2" rx="2.4" ry="2.6"/><ellipse cx="-16" cy="3.6" rx="2.8" ry="2.6"/><ellipse cx="-13.4" cy="-5.5" rx="2.2" ry="2"/><ellipse cx="3" cy="9" rx="2" ry="2.2"/></g><g fill="none" stroke="#a82f80" stroke-width="2.3"><path d="M-13.8,-13.9 L-8.4,-8.5"/><path d="M0.4,-17.3 C3,-18 6,-17 7.2,-13.7"/><path d="M-8.1,-12 C-7,-9 -8,-5 -9,-2 C-7,2 -5,6 -1,8 C2,10 4,13 3,16 C1.5,17.5 -1,17 -2,15.5"/><path d="M-16.6,7.6 C-13,8.5 -10,9 -5.5,9.5"/><path d="M8.3,-10.7 C11,-8 11.5,-5.5 9.5,-4.5"/><path d="M13,-0.8 C16,0.5 16.5,3 14,4.5 C12,5.5 10,4.5 10,4.5"/><path d="M11,8.5 L14.6,9.4"/><path d="M-18.5,-2.4 C-15,-1 -13,0 -14,3"/></g><g fill="none" stroke="#7a3a9a" stroke-width="1.3"><path d="M-3,-12 C-5,-8 -4,-4 -2,-1"/><path d="M1,-2 C4,0 5,3 4,6"/><path d="M-12,-1 L-8,1"/><path d="M4,-9 L8,-5"/></g><g fill="#c9c4d4"><circle cx="-8.1" cy="-14.3" r="1.6"/><circle cx="15.2" cy="-5.6" r="1.5"/><circle cx="-12.5" cy="12.5" r="1.4"/><circle cx="14.5" cy="12.3" r="1.4"/><circle cx="-9" cy="17" r="1.6"/></g></g>
<text x="1002.4" y="439.3" font-size="12" text-anchor="middle" fill="#444" textLength="103.2" lengthAdjust="spacingAndGlyphs">Protein degradation</text>
<rect x="961" y="479.5" width="99" height="37" rx="6" fill="#f4f9f2" stroke="#555" stroke-width="1.1" stroke-dasharray="3,2.5"/>
<line x1="966.7" y1="490.8" x2="990.4" y2="490.8" stroke="#2e1a57" stroke-width="2.6" stroke-linecap="round"/><path d="M994,490.8 L988,494.6 L990.7,490.8 L988,487.1 Z" fill="#2e1a57" stroke="#2e1a57" stroke-width="0.6" stroke-linejoin="round"/>
<text x="998" y="494.7" font-size="12" fill="#222" textLength="55" lengthAdjust="spacingAndGlyphs">Promotion</text>
<circle cx="994" cy="505" r="5.5" fill="#ff1a3a" opacity="0.85" filter="url(#glowR)"/>
<line x1="966.7" y1="505" x2="994" y2="505" stroke="#c0262c" stroke-width="2.2"/><line x1="994" y1="497.5" x2="994" y2="512" stroke="#c0262c" stroke-width="2.6"/>
<text x="1002.5" y="508.7" font-size="12" fill="#222" textLength="48.3" lengthAdjust="spacingAndGlyphs">Inhibition</text>
<path d="M120.8,284.5 C117.9,282.6 105.2,285.7 99.7,286.3 C94.1,286.8 84.5,287.8 79.3,288.5 C74.1,289.3 65.5,290.8 60.7,292.2 C55.9,293.5 47.4,296.3 42.9,298.4 C38.5,300.6 31.1,305.6 27.5,308.6 C23.8,311.5 18.2,317.4 15.5,320.6 C12.7,323.8 8.5,329.4 6.9,332.7 C5.3,336 3.6,343.5 3.3,345.2 C3,347 3.6,347.1 4.7,345.8 C5.7,344.5 9,338 11.1,335.3 C13.2,332.6 17.7,328.1 20.5,325.4 C23.4,322.8 29,317.8 32.5,315.4 C36.1,313 43,309.2 47.1,307.6 C51.2,305.9 58.8,303.8 63.3,302.8 C67.8,301.9 75.8,300.9 80.7,300.5 C85.6,300 94.9,299.7 100.3,299.7 C105.7,299.7 118.5,302.5 121.2,300.5 C123.9,298.5 123.7,286.4 120.8,284.5Z" fill="#b2837c"/><path d="M121,289 C105,288 90,289 70,291.5" fill="none" stroke="#c4958f" stroke-width="3" stroke-linecap="round" opacity="0.8"/><path d="M127,303 L137,305 L137,318 C141,320 146,322 145,327 C144,331 140,331 138,330 C136,334 132,334 131,331 C128,334 124,333 124,329 C121,331 117,329 118.5,325 C120,322 126,321 128,318 Z" fill="#b88781"/><path d="M127.5,303 L137,305 L136.5,312 L128,311Z" fill="#8e6560"/><path d="M168,322 L179,322 L180,333 C184,336 187,340 185,345 C183,348 180,347 179,346 C178,350 174,350 173,347 C170,350 166,348 167,344 C164,344 163,340 166,337 L169,333 Z" fill="#b88781"/><path d="M234,318 L244,318 L244,335 C248,336 253,339 251,343 C249,345 246,344 245,343 C245,347 241,348 240,344 C238,347 234,347 234,343 C231,345 227,344 228,340 C229,337 233,336 236,334 Z" fill="#b88781"/><path d="M190,213.6 C197.4,213.9 202.1,215.4 208,217.5 C213.9,219.6 217.2,221.6 222,225 C226.8,228.4 230,229.9 234,236 C238,242.1 241,249.9 244,258 C247,266.1 249.3,272.3 250.5,280 C251.7,287.7 251.1,293.4 250.5,300 C249.9,306.6 248.4,312.2 247,316 C245.6,319.8 245.6,319.8 243,320.5 C240.4,321.2 236.8,320.4 233,320 C229.2,319.6 227.1,318.1 222,318.5 C216.9,318.9 211.2,321.4 205,322 C198.8,322.6 192.8,320.5 188,322 C183.2,323.5 182.5,328.4 179,330 C175.5,331.6 171.4,332.7 169,331 C166.6,329.3 168.1,323 166,320.5 C163.9,318 161,319.2 157.6,317.6 C154.2,316 151.3,313.9 147.5,311.8 C143.7,309.7 140.8,307.3 137,306 C133.2,304.7 129.8,307.1 127,304.5 C124.2,301.9 123,297 121.5,292 C120,287 118.9,281.9 118.6,277 C118.3,272.1 119,270 120.1,265.5 C121.2,261 122.3,257.1 124.4,252.6 C126.5,248.1 128.4,245.2 131.6,241 C134.8,236.8 137.7,233.2 141.7,229.5 C145.7,225.8 148.5,223.4 153.2,220.9 C157.9,218.4 160.9,217.1 167.6,215.8 C174.3,214.5 182.6,213.3 190,213.6Z" fill="#504c49"/><path d="M122,282 C124,292 126,300 128,304 L137,306 C140,300 145,296 150,295 C142,290 132,288 122,282Z" fill="#57524e" opacity="0.9"/><path d="M150,296 C157,300 163,306 166,320 L157.6,317.6 L147.5,311.8 L137,306 C140,300 145,297 150,296Z" fill="#524d4a"/><path d="M172,258 C176.4,251.9 183,249.4 190,247 C197,244.6 202.3,244.1 210,245 C217.7,245.9 225.4,248.2 232,252 C238.6,255.8 242.7,260.1 246,266 C249.3,271.9 249.6,277 250,284 C250.4,291 249.8,298.1 248,304 C246.2,309.9 244.8,313.2 240,316 C235.2,318.8 228.4,317.9 222,319 C215.6,320.1 211.4,321.6 205,322 C198.6,322.4 192.7,322.5 187,321 C181.3,319.5 177.7,317.9 174,314 C170.3,310.1 168.5,306.2 167,300 C165.5,293.8 165.1,287.7 166,280 C166.9,272.3 167.6,264.1 172,258Z" fill="#4e4a47" stroke="#3f3b39" stroke-width="0.8"/><path d="M166,300 C162,310 164,318 168,331 L179.5,331 C181,325 183,322 187,320 C180,316 172,310 166,300Z" fill="#474341" stroke="#3c3937" stroke-width="0.6"/><path d="M250,285 C252,298 250,310 244.5,320 L233,319.5 C234,312 238,306 244,300Z" fill="#474341" stroke="#3c3937" stroke-width="0.6"/><path d="M152.5,240 C152.5,235.2 153.7,230.3 156,227 C158.3,223.7 161.5,222.5 165,221.9 C168.5,221.3 172,222 175,224 C178,226 180.4,229 181.5,233 C182.6,237 182,241.4 181,246 C180,250.6 177.7,254.7 176,258 C174.3,261.3 173.9,263.4 171.7,264 C169.5,264.6 166.9,263 164,261 C161.1,259 158.1,256.9 156,253 C153.9,249.2 152.5,244.8 152.5,240Z" fill="#b07e77" stroke="#433c39" stroke-width="1.3"/><path d="M155.5,241.9 C155.5,237.9 156.5,233.8 158.4,231 C160.3,228.2 163,227.2 166,226.7 C168.9,226.3 171.8,226.8 174.4,228.5 C176.9,230.2 178.9,232.7 179.8,236.1 C180.7,239.5 180.2,243.1 179.4,247 C178.6,250.8 176.6,254.3 175.2,257.1 C173.8,259.8 173.4,261.6 171.6,262.1 C169.7,262.6 167.5,261.3 165.1,259.6 C162.7,257.9 160.2,256.1 158.4,252.9 C156.6,249.6 155.5,246 155.5,241.9Z" fill="#c1958e"/><path d="M163.5,243 C165,238 170,236 175,239" fill="none" stroke="#a4736d" stroke-width="1.3" stroke-linecap="round"/><path d="M230.5,245 C231.4,240.1 233,232.6 236,228 C239,223.4 243,221.3 247,220 C251,218.7 255.1,218.8 258,221 C260.9,223.2 262.2,227.4 263,232 C263.8,236.6 263.8,241.2 262.5,246 C261.2,250.8 259.2,254.7 256,258 C252.8,261.3 248.7,263.5 245,264.2 C241.3,264.9 238.6,263.7 236,262 C233.4,260.3 232,258.1 231,255 C230,251.9 229.6,249.9 230.5,245Z" fill="#b07e77" stroke="#433c39" stroke-width="1.3"/><path d="M232.6,246.2 C233.3,242 234.6,235.8 237.2,231.9 C239.7,228.1 243,226.3 246.4,225.2 C249.8,224.1 253.2,224.2 255.7,226 C258.1,227.9 259.2,231.4 259.9,235.3 C260.6,239.1 260.5,243 259.4,247 C258.4,251 256.7,254.3 254,257.1 C251.3,259.9 247.8,261.7 244.7,262.3 C241.7,262.9 239.3,261.9 237.2,260.5 C235,259.1 233.8,257.2 233,254.6 C232.1,252 231.8,250.4 232.6,246.2Z" fill="#c1958e"/><path d="M240.5,240 C243,236 248,235 251,241" fill="none" stroke="#a4736d" stroke-width="1.3" stroke-linecap="round"/><path d="M184.6,278 C185,275.5 192.5,275.5 193,278 L193,283 C192,285.5 185.5,285.5 184.6,283Z" fill="#262220"/><path d="M219.9,278 C220.3,275.5 227.8,275.5 228.2,278 L228.2,283 C227.3,285.5 220.8,285.5 219.9,283Z" fill="#262220"/><circle cx="187.8" cy="276.6" r="0.9" fill="#eee"/><circle cx="223.4" cy="276.6" r="0.9" fill="#eee"/><path d="M200.5,307.5 C202,305 210,305 211.8,307.5 C212,311 208.5,313 206,313 C203.5,313 200,311 200.5,307.5Z" fill="#cf9a95"/><g stroke="#c4bfbb" stroke-width="0.55" fill="none"><path d="M249,282.5 C254,281 259,280.5 264,280.5"/><path d="M249,293 L259,292"/><path d="M249,304 C254,304 259,304.5 264.5,306"/><path d="M244,316 C250,318 255,321 260.5,325.5"/><path d="M172,312 L160,322"/><path d="M230,316 L238,330"/></g><g stroke="#3a3634" stroke-width="0.5" fill="none"><path d="M195,306 L175,300"/><path d="M195,309 L176,307"/><path d="M217,306 L237,300"/><path d="M217,309 L236,307"/></g>
<line x1="341.2" y1="10.3" x2="199" y2="243.5" stroke="#111" stroke-width="2.3" stroke-dasharray="6.4,4.2" stroke-dashoffset="2.6"/>
<line x1="333.1" y1="541" x2="205" y2="265" stroke="#111" stroke-width="2.3" stroke-dasharray="6.4,4.2"/>
<path d="M206.5,241.5 C208.3,241.5 209.4,239.6 212,239.3 C214.6,239 219,239 222,239.8 C225,240.6 228,242 230,244 C232,246 233.2,249 233.8,252 C234.4,255 234.1,259 233.5,262 C232.9,265 231.6,267.9 230,270 C228.4,272.1 226,274.3 224,274.9 C222,275.5 219.8,274.1 218,273.5 C216.2,272.9 214.9,271.5 213,271.5 C211.1,271.5 208.9,273.5 206.8,273.5 C204.7,273.5 202.4,271.5 200.5,271.5 C198.6,271.5 197.3,272.9 195.5,273.5 C193.7,274.1 191.6,275.5 189.5,274.9 C187.4,274.3 184.7,272.1 183,270 C181.3,267.9 180.1,265 179.5,262 C178.9,259 178.6,255 179.2,252 C179.8,249 181,246 183,244 C185,242 188,240.6 191,239.8 C194,239 198.4,239 201,239.3 C203.6,239.6 204.7,241.5 206.5,241.5Z" fill="none" stroke="#fff" stroke-width="2.5" opacity="0.7" filter="url(#glowB)"/>
<path d="M206.5,241.5 C208.3,241.5 209.4,239.6 212,239.3 C214.6,239 219,239 222,239.8 C225,240.6 228,242 230,244 C232,246 233.2,249 233.8,252 C234.4,255 234.1,259 233.5,262 C232.9,265 231.6,267.9 230,270 C228.4,272.1 226,274.3 224,274.9 C222,275.5 219.8,274.1 218,273.5 C216.2,272.9 214.9,271.5 213,271.5 C211.1,271.5 208.9,273.5 206.8,273.5 C204.7,273.5 202.4,271.5 200.5,271.5 C198.6,271.5 197.3,272.9 195.5,273.5 C193.7,274.1 191.6,275.5 189.5,274.9 C187.4,274.3 184.7,272.1 183,270 C181.3,267.9 180.1,265 179.5,262 C178.9,259 178.6,255 179.2,252 C179.8,249 181,246 183,244 C185,242 188,240.6 191,239.8 C194,239 198.4,239 201,239.3 C203.6,239.6 204.7,241.5 206.5,241.5Z" fill="#eed4d1" stroke="#f7e9e7" stroke-width="0.8"/>
<path d="M206.5,249.5 C208.3,249.5 210.1,247 212,246.5 C213.9,246 216.3,245.9 218,246.5 C219.7,247.1 221.3,248.4 222,250 C222.7,251.6 222.4,254 221.9,256 C221.4,258 220.5,260 219,262 C217.5,264 215,266.2 213,268 C211,269.8 208.9,273 206.8,273 C204.7,273 202.6,269.8 200.5,268 C198.4,266.2 195.6,264 194,262 C192.4,260 191.7,258 191.2,256 C190.7,254 190.4,251.6 191,250 C191.6,248.4 193.3,247.1 195,246.5 C196.7,245.9 199.1,246 201,246.5 C202.9,247 204.7,249.5 206.5,249.5Z" fill="#f3e2e0" stroke="#f9f1f0" stroke-width="1"/>
<path d="M189,250.5 C193,246.5 197,249 200,251 C203,250 205,248 206.5,249.5 C208,248 210,250 213,251 C216,249 220,246.5 224,250.5" fill="none" stroke="#e3bfbc" stroke-width="0.9"/>
<path d="M206.5,250 L206.5,255" stroke="#d59794" stroke-width="1.6" stroke-linecap="round"/>
<path d="M183,262 C186,266 189,270 192,273" fill="none" stroke="#f8ecea" stroke-width="0.8"/><path d="M230,262 C227,266 224,270 221,273" fill="none" stroke="#f8ecea" stroke-width="0.8"/></svg>
</body></html>
